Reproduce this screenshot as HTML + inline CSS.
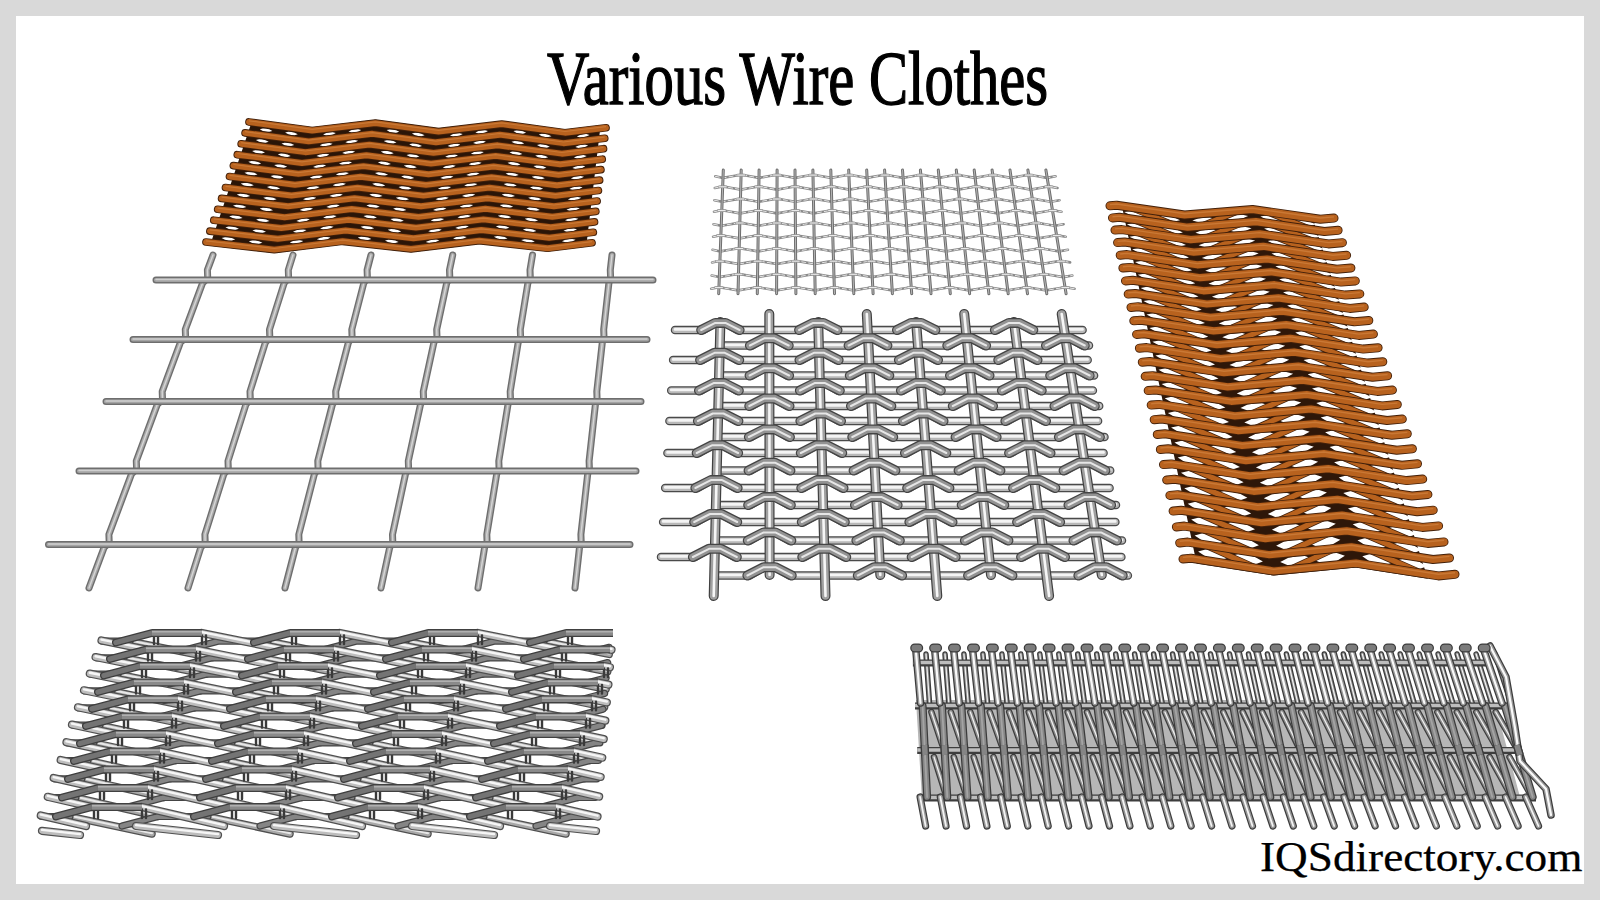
<!DOCTYPE html>
<html><head><meta charset="utf-8"><style>
html,body{margin:0;padding:0;background:#d9d9d9;}
body{width:1600px;height:900px;position:relative;overflow:hidden;}
#w{position:absolute;left:16px;top:16px;width:1568px;height:868px;background:#fff;}
svg{position:absolute;left:0;top:0;}
.t{position:absolute;font-family:"Liberation Serif",serif;color:#000;white-space:nowrap;line-height:1;}
</style></head><body><div id="w"></div>
<svg width="1600" height="900" viewBox="0 0 1600 900">
<g fill="none" stroke-linecap="round">
<path d="M213 255L207.4 270L207.7 278L202.6 283L185.3 329.5L185.6 337.5L180.4 342.5L162.2 391.5L162.5 399.5L157.3 404.5L136.3 461L136.6 469L131.5 474L108.9 534.5L109.2 542.5L104.1 547.5L89 588M293 255L288.3 270L288.6 278L284.2 283L269.5 329.5L269.8 337.5L265.4 342.5L250 391.5L250.3 399.5L245.9 404.5L228 461L228.3 469L223.9 474L204.9 534.5L205.2 542.5L200.8 547.5L188 588M371 255L367.1 270L367.4 278L363.8 283L351.8 329.5L352.1 337.5L348.4 342.5L335.7 391.5L336 399.5L332.4 404.5L317.8 461L318.1 469L314.4 474L298.8 534.5L299.1 542.5L295.5 547.5L285 588M452.7 255L449.5 270L449.8 278L446.7 283L436.7 329.5L437 337.5L433.9 342.5L423.3 391.5L423.6 399.5L420.5 404.5L408.3 461L408.6 469L405.5 474L392.5 534.5L392.8 542.5L389.7 547.5L381 588M532.5 255L530 270L530.3 278L527.9 283L520.3 329.5L520.6 337.5L518.2 342.5L510.2 391.5L510.5 399.5L508 404.5L498.8 461L499.1 469L496.7 474L486.8 534.5L487.1 542.5L484.6 547.5L478 588M612 255L610.3 270L610.6 278L608.9 283L603.7 329.5L604 337.5L602.3 342.5L596.8 391.5L597.1 399.5L595.4 404.5L589.1 461L589.4 469L587.7 474L580.9 534.5L581.2 542.5L579.5 547.5L575 588" stroke="#6e6e6e" stroke-width="7" stroke-linejoin="round"/>
<path d="M213 255L207.4 270L207.7 278L202.6 283L185.3 329.5L185.6 337.5L180.4 342.5L162.2 391.5L162.5 399.5L157.3 404.5L136.3 461L136.6 469L131.5 474L108.9 534.5L109.2 542.5L104.1 547.5L89 588M293 255L288.3 270L288.6 278L284.2 283L269.5 329.5L269.8 337.5L265.4 342.5L250 391.5L250.3 399.5L245.9 404.5L228 461L228.3 469L223.9 474L204.9 534.5L205.2 542.5L200.8 547.5L188 588M371 255L367.1 270L367.4 278L363.8 283L351.8 329.5L352.1 337.5L348.4 342.5L335.7 391.5L336 399.5L332.4 404.5L317.8 461L318.1 469L314.4 474L298.8 534.5L299.1 542.5L295.5 547.5L285 588M452.7 255L449.5 270L449.8 278L446.7 283L436.7 329.5L437 337.5L433.9 342.5L423.3 391.5L423.6 399.5L420.5 404.5L408.3 461L408.6 469L405.5 474L392.5 534.5L392.8 542.5L389.7 547.5L381 588M532.5 255L530 270L530.3 278L527.9 283L520.3 329.5L520.6 337.5L518.2 342.5L510.2 391.5L510.5 399.5L508 404.5L498.8 461L499.1 469L496.7 474L486.8 534.5L487.1 542.5L484.6 547.5L478 588M612 255L610.3 270L610.6 278L608.9 283L603.7 329.5L604 337.5L602.3 342.5L596.8 391.5L597.1 399.5L595.4 404.5L589.1 461L589.4 469L587.7 474L580.9 534.5L581.2 542.5L579.5 547.5L575 588" stroke="#a9a9a9" stroke-width="4.2" stroke-linejoin="round"/>
<path d="M213 255L207.4 270L207.7 278L202.6 283L185.3 329.5L185.6 337.5L180.4 342.5L162.2 391.5L162.5 399.5L157.3 404.5L136.3 461L136.6 469L131.5 474L108.9 534.5L109.2 542.5L104.1 547.5L89 588M293 255L288.3 270L288.6 278L284.2 283L269.5 329.5L269.8 337.5L265.4 342.5L250 391.5L250.3 399.5L245.9 404.5L228 461L228.3 469L223.9 474L204.9 534.5L205.2 542.5L200.8 547.5L188 588M371 255L367.1 270L367.4 278L363.8 283L351.8 329.5L352.1 337.5L348.4 342.5L335.7 391.5L336 399.5L332.4 404.5L317.8 461L318.1 469L314.4 474L298.8 534.5L299.1 542.5L295.5 547.5L285 588M452.7 255L449.5 270L449.8 278L446.7 283L436.7 329.5L437 337.5L433.9 342.5L423.3 391.5L423.6 399.5L420.5 404.5L408.3 461L408.6 469L405.5 474L392.5 534.5L392.8 542.5L389.7 547.5L381 588M532.5 255L530 270L530.3 278L527.9 283L520.3 329.5L520.6 337.5L518.2 342.5L510.2 391.5L510.5 399.5L508 404.5L498.8 461L499.1 469L496.7 474L486.8 534.5L487.1 542.5L484.6 547.5L478 588M612 255L610.3 270L610.6 278L608.9 283L603.7 329.5L604 337.5L602.3 342.5L596.8 391.5L597.1 399.5L595.4 404.5L589.1 461L589.4 469L587.7 474L580.9 534.5L581.2 542.5L579.5 547.5L575 588" stroke="#d6d6d6" stroke-width="1.4" stroke-linejoin="round"/>
<path d="M156 280H653M133 339.5H647M106 401.5H641M79 471H636M48.5 544.5H630" stroke="#6e6e6e" stroke-width="7"/>
<path d="M156 280H653M133 339.5H647M106 401.5H641M79 471H636M48.5 544.5H630" stroke="#a4a4a4" stroke-width="4.2"/>
<path d="M156 280H653M133 339.5H647M106 401.5H641M79 471H636M48.5 544.5H630" stroke="#cfcfcf" stroke-width="1.4" transform="translate(0,-0.5)"/>
</g>
<g fill="none" stroke-linecap="round" stroke-linejoin="round">
<path d="M715.3 176.3L723.1 177.9L732.1 176.3L741.1 174.7L750.1 176.3L759 177.9L768 176.3L777 174.7L786 176.3L795 177.9L804 176.3L813 174.7L822 176.3L831 177.9L840 176.3L849 174.7L858 176.3L867 177.9L876 176.3L885 174.7L894 176.3L903 177.9L912 176.3L921 174.7L930 176.3L938.9 177.9L947.9 176.3L956.9 174.7L965.9 176.3L974.9 177.9L983.9 176.3L992.9 174.7L1001.9 176.3L1010.9 177.9L1019.9 176.3L1028.9 174.7L1037.9 176.3L1046.9 177.9L1055.5 176.3M714.8 188L722.6 186.4L731.7 188L740.8 189.6L749.8 188L758.9 186.4L767.9 188L777 189.6L786.1 188L795.1 186.4L804.2 188L813.2 189.6L822.3 188L831.4 186.4L840.4 188L849.5 189.6L858.5 188L867.6 186.4L876.7 188L885.7 189.6L894.8 188L903.8 186.4L912.9 188L922 189.6L931 188L940.1 186.4L949.1 188L958.2 189.6L967.3 188L976.3 186.4L985.4 188L994.4 189.6L1003.5 188L1012.6 186.4L1021.6 188L1030.7 189.6L1039.7 188L1048.8 186.4L1057.5 188M714.4 200.2L722.2 201.8L731.3 200.2L740.4 198.6L749.6 200.2L758.7 201.8L767.8 200.2L776.9 198.6L786.1 200.2L795.2 201.8L804.3 200.2L813.5 198.6L822.6 200.2L831.7 201.8L840.8 200.2L850 198.6L859.1 200.2L868.2 201.8L877.4 200.2L886.5 198.6L895.6 200.2L904.7 201.8L913.9 200.2L923 198.6L932.1 200.2L941.3 201.8L950.4 200.2L959.5 198.6L968.6 200.2L977.8 201.8L986.9 200.2L996 198.6L1005.2 200.2L1014.3 201.8L1023.4 200.2L1032.5 198.6L1041.7 200.2L1050.8 201.8L1059.5 200.2M714 211.8L721.7 210.2L730.9 211.8L740.1 213.4L749.3 211.8L758.5 210.2L767.7 211.8L776.9 213.4L786.1 211.8L795.3 210.2L804.5 211.8L813.7 213.4L822.9 211.8L832.1 210.2L841.3 211.8L850.4 213.4L859.6 211.8L868.8 210.2L878 211.8L887.2 213.4L896.4 211.8L905.6 210.2L914.8 211.8L924 213.4L933.2 211.8L942.4 210.2L951.6 211.8L960.8 213.4L970 211.8L979.2 210.2L988.3 211.8L997.5 213.4L1006.7 211.8L1015.9 210.2L1025.1 211.8L1034.3 213.4L1043.5 211.8L1052.7 210.2L1061.5 211.8M713.5 224.2L721.3 225.8L730.5 224.2L739.8 222.6L749.1 224.2L758.3 225.8L767.6 224.2L776.9 222.6L786.1 224.2L795.4 225.8L804.6 224.2L813.9 222.6L823.2 224.2L832.4 225.8L841.7 224.2L851 222.6L860.2 224.2L869.5 225.8L878.7 224.2L888 222.6L897.3 224.2L906.5 225.8L915.8 224.2L925.1 222.6L934.3 224.2L943.6 225.8L952.8 224.2L962.1 222.6L971.4 224.2L980.6 225.8L989.9 224.2L999.2 222.6L1008.4 224.2L1017.7 225.8L1026.9 224.2L1036.2 222.6L1045.5 224.2L1054.7 225.8L1063.6 224.2M713.1 236.8L720.8 235.2L730.1 236.8L739.5 238.4L748.8 236.8L758.1 235.2L767.5 236.8L776.8 238.4L786.1 236.8L795.5 235.2L804.8 236.8L814.1 238.4L823.5 236.8L832.8 235.2L842.1 236.8L851.5 238.4L860.8 236.8L870.1 235.2L879.5 236.8L888.8 238.4L898.1 236.8L907.5 235.2L916.8 236.8L926.1 238.4L935.5 236.8L944.8 235.2L954.1 236.8L963.5 238.4L972.8 236.8L982.1 235.2L991.5 236.8L1000.8 238.4L1010.1 236.8L1019.5 235.2L1028.8 236.8L1038.1 238.4L1047.5 236.8L1056.8 235.2L1065.7 236.8M712.6 249.8L720.3 251.4L729.7 249.8L739.1 248.2L748.5 249.8L758 251.4L767.4 249.8L776.8 248.2L786.2 249.8L795.6 251.4L805 249.8L814.4 248.2L823.8 249.8L833.2 251.4L842.6 249.8L852 248.2L861.4 249.8L870.8 251.4L880.2 249.8L889.6 248.2L899 249.8L908.4 251.4L917.8 249.8L927.2 248.2L936.7 249.8L946.1 251.4L955.5 249.8L964.9 248.2L974.3 249.8L983.7 251.4L993.1 249.8L1002.5 248.2L1011.9 249.8L1021.3 251.4L1030.7 249.8L1040.1 248.2L1049.5 249.8L1058.9 251.4L1067.9 249.8M712.1 262.4L719.9 260.8L729.3 262.4L738.8 264L748.3 262.4L757.8 260.8L767.2 262.4L776.7 264L786.2 262.4L795.7 260.8L805.1 262.4L814.6 264L824.1 262.4L833.6 260.8L843 262.4L852.5 264L862 262.4L871.5 260.8L880.9 262.4L890.4 264L899.9 262.4L909.4 260.8L918.8 262.4L928.3 264L937.8 262.4L947.3 260.8L956.7 262.4L966.2 264L975.7 262.4L985.2 260.8L994.7 262.4L1004.1 264L1013.6 262.4L1023.1 260.8L1032.6 262.4L1042 264L1051.5 262.4L1061 260.8L1070.1 262.4M711.7 275.5L719.4 277.1L728.9 275.5L738.5 273.9L748 275.5L757.6 277.1L767.1 275.5L776.7 273.9L786.2 275.5L795.8 277.1L805.3 275.5L814.9 273.9L824.4 275.5L834 277.1L843.5 275.5L853.1 273.9L862.6 275.5L872.2 277.1L881.7 275.5L891.2 273.9L900.8 275.5L910.3 277.1L919.9 275.5L929.4 273.9L939 275.5L948.5 277.1L958.1 275.5L967.6 273.9L977.2 275.5L986.7 277.1L996.3 275.5L1005.8 273.9L1015.4 275.5L1024.9 277.1L1034.5 275.5L1044 273.9L1053.6 275.5L1063.1 277.1L1072.3 275.5M711.2 288.8L718.9 287.2L728.5 288.8L738.1 290.4L747.8 288.8L757.4 287.2L767 288.8L776.6 290.4L786.2 288.8L795.9 287.2L805.5 288.8L815.1 290.4L824.7 288.8L834.4 287.2L844 288.8L853.6 290.4L863.2 288.8L872.8 287.2L882.5 288.8L892.1 290.4L901.7 288.8L911.3 287.2L921 288.8L930.6 290.4L940.2 288.8L949.8 287.2L959.4 288.8L969.1 290.4L978.7 288.8L988.3 287.2L997.9 288.8L1007.6 290.4L1017.2 288.8L1026.8 287.2L1036.4 288.8L1046.1 290.4L1055.7 288.8L1065.3 287.2L1074.6 288.8" stroke="#8a8a8a" stroke-width="2.6"/>
<path d="M715.3 176.3L723.1 177.9L732.1 176.3L741.1 174.7L750.1 176.3L759 177.9L768 176.3L777 174.7L786 176.3L795 177.9L804 176.3L813 174.7L822 176.3L831 177.9L840 176.3L849 174.7L858 176.3L867 177.9L876 176.3L885 174.7L894 176.3L903 177.9L912 176.3L921 174.7L930 176.3L938.9 177.9L947.9 176.3L956.9 174.7L965.9 176.3L974.9 177.9L983.9 176.3L992.9 174.7L1001.9 176.3L1010.9 177.9L1019.9 176.3L1028.9 174.7L1037.9 176.3L1046.9 177.9L1055.5 176.3M714.8 188L722.6 186.4L731.7 188L740.8 189.6L749.8 188L758.9 186.4L767.9 188L777 189.6L786.1 188L795.1 186.4L804.2 188L813.2 189.6L822.3 188L831.4 186.4L840.4 188L849.5 189.6L858.5 188L867.6 186.4L876.7 188L885.7 189.6L894.8 188L903.8 186.4L912.9 188L922 189.6L931 188L940.1 186.4L949.1 188L958.2 189.6L967.3 188L976.3 186.4L985.4 188L994.4 189.6L1003.5 188L1012.6 186.4L1021.6 188L1030.7 189.6L1039.7 188L1048.8 186.4L1057.5 188M714.4 200.2L722.2 201.8L731.3 200.2L740.4 198.6L749.6 200.2L758.7 201.8L767.8 200.2L776.9 198.6L786.1 200.2L795.2 201.8L804.3 200.2L813.5 198.6L822.6 200.2L831.7 201.8L840.8 200.2L850 198.6L859.1 200.2L868.2 201.8L877.4 200.2L886.5 198.6L895.6 200.2L904.7 201.8L913.9 200.2L923 198.6L932.1 200.2L941.3 201.8L950.4 200.2L959.5 198.6L968.6 200.2L977.8 201.8L986.9 200.2L996 198.6L1005.2 200.2L1014.3 201.8L1023.4 200.2L1032.5 198.6L1041.7 200.2L1050.8 201.8L1059.5 200.2M714 211.8L721.7 210.2L730.9 211.8L740.1 213.4L749.3 211.8L758.5 210.2L767.7 211.8L776.9 213.4L786.1 211.8L795.3 210.2L804.5 211.8L813.7 213.4L822.9 211.8L832.1 210.2L841.3 211.8L850.4 213.4L859.6 211.8L868.8 210.2L878 211.8L887.2 213.4L896.4 211.8L905.6 210.2L914.8 211.8L924 213.4L933.2 211.8L942.4 210.2L951.6 211.8L960.8 213.4L970 211.8L979.2 210.2L988.3 211.8L997.5 213.4L1006.7 211.8L1015.9 210.2L1025.1 211.8L1034.3 213.4L1043.5 211.8L1052.7 210.2L1061.5 211.8M713.5 224.2L721.3 225.8L730.5 224.2L739.8 222.6L749.1 224.2L758.3 225.8L767.6 224.2L776.9 222.6L786.1 224.2L795.4 225.8L804.6 224.2L813.9 222.6L823.2 224.2L832.4 225.8L841.7 224.2L851 222.6L860.2 224.2L869.5 225.8L878.7 224.2L888 222.6L897.3 224.2L906.5 225.8L915.8 224.2L925.1 222.6L934.3 224.2L943.6 225.8L952.8 224.2L962.1 222.6L971.4 224.2L980.6 225.8L989.9 224.2L999.2 222.6L1008.4 224.2L1017.7 225.8L1026.9 224.2L1036.2 222.6L1045.5 224.2L1054.7 225.8L1063.6 224.2M713.1 236.8L720.8 235.2L730.1 236.8L739.5 238.4L748.8 236.8L758.1 235.2L767.5 236.8L776.8 238.4L786.1 236.8L795.5 235.2L804.8 236.8L814.1 238.4L823.5 236.8L832.8 235.2L842.1 236.8L851.5 238.4L860.8 236.8L870.1 235.2L879.5 236.8L888.8 238.4L898.1 236.8L907.5 235.2L916.8 236.8L926.1 238.4L935.5 236.8L944.8 235.2L954.1 236.8L963.5 238.4L972.8 236.8L982.1 235.2L991.5 236.8L1000.8 238.4L1010.1 236.8L1019.5 235.2L1028.8 236.8L1038.1 238.4L1047.5 236.8L1056.8 235.2L1065.7 236.8M712.6 249.8L720.3 251.4L729.7 249.8L739.1 248.2L748.5 249.8L758 251.4L767.4 249.8L776.8 248.2L786.2 249.8L795.6 251.4L805 249.8L814.4 248.2L823.8 249.8L833.2 251.4L842.6 249.8L852 248.2L861.4 249.8L870.8 251.4L880.2 249.8L889.6 248.2L899 249.8L908.4 251.4L917.8 249.8L927.2 248.2L936.7 249.8L946.1 251.4L955.5 249.8L964.9 248.2L974.3 249.8L983.7 251.4L993.1 249.8L1002.5 248.2L1011.9 249.8L1021.3 251.4L1030.7 249.8L1040.1 248.2L1049.5 249.8L1058.9 251.4L1067.9 249.8M712.1 262.4L719.9 260.8L729.3 262.4L738.8 264L748.3 262.4L757.8 260.8L767.2 262.4L776.7 264L786.2 262.4L795.7 260.8L805.1 262.4L814.6 264L824.1 262.4L833.6 260.8L843 262.4L852.5 264L862 262.4L871.5 260.8L880.9 262.4L890.4 264L899.9 262.4L909.4 260.8L918.8 262.4L928.3 264L937.8 262.4L947.3 260.8L956.7 262.4L966.2 264L975.7 262.4L985.2 260.8L994.7 262.4L1004.1 264L1013.6 262.4L1023.1 260.8L1032.6 262.4L1042 264L1051.5 262.4L1061 260.8L1070.1 262.4M711.7 275.5L719.4 277.1L728.9 275.5L738.5 273.9L748 275.5L757.6 277.1L767.1 275.5L776.7 273.9L786.2 275.5L795.8 277.1L805.3 275.5L814.9 273.9L824.4 275.5L834 277.1L843.5 275.5L853.1 273.9L862.6 275.5L872.2 277.1L881.7 275.5L891.2 273.9L900.8 275.5L910.3 277.1L919.9 275.5L929.4 273.9L939 275.5L948.5 277.1L958.1 275.5L967.6 273.9L977.2 275.5L986.7 277.1L996.3 275.5L1005.8 273.9L1015.4 275.5L1024.9 277.1L1034.5 275.5L1044 273.9L1053.6 275.5L1063.1 277.1L1072.3 275.5M711.2 288.8L718.9 287.2L728.5 288.8L738.1 290.4L747.8 288.8L757.4 287.2L767 288.8L776.6 290.4L786.2 288.8L795.9 287.2L805.5 288.8L815.1 290.4L824.7 288.8L834.4 287.2L844 288.8L853.6 290.4L863.2 288.8L872.8 287.2L882.5 288.8L892.1 290.4L901.7 288.8L911.3 287.2L921 288.8L930.6 290.4L940.2 288.8L949.8 287.2L959.4 288.8L969.1 290.4L978.7 288.8L988.3 287.2L997.9 288.8L1007.6 290.4L1017.2 288.8L1026.8 287.2L1036.4 288.8L1046.1 290.4L1055.7 288.8L1065.3 287.2L1074.6 288.8" stroke="#e6e6e6" stroke-width="1" stroke-dasharray="4 3"/>
<path d="M723.3 170L718.7 293.7M741.2 170L738 293.7M759.1 170L757.3 293.7M777.1 170L776.6 293.7M795 170L795.9 293.7M812.9 170L815.2 293.7M830.8 170L834.5 293.7M848.7 170L853.8 293.7M866.7 170L873.1 293.7M884.6 170L892.4 293.7M902.5 170L911.7 293.7M920.4 170L931 293.7M938.3 170L950.3 293.7M956.3 170L969.6 293.7M974.2 170L988.9 293.7M992.1 170L1008.2 293.7M1010 170L1027.5 293.7M1027.9 170L1046.8 293.7M1045.9 170L1066.1 293.7" stroke="#6e6e6e" stroke-width="3"/>
<path d="M723.3 170L718.7 293.7M741.2 170L738 293.7M759.1 170L757.3 293.7M777.1 170L776.6 293.7M795 170L795.9 293.7M812.9 170L815.2 293.7M830.8 170L834.5 293.7M848.7 170L853.8 293.7M866.7 170L873.1 293.7M884.6 170L892.4 293.7M902.5 170L911.7 293.7M920.4 170L931 293.7M938.3 170L950.3 293.7M956.3 170L969.6 293.7M974.2 170L988.9 293.7M992.1 170L1008.2 293.7M1010 170L1027.5 293.7M1027.9 170L1046.8 293.7M1045.9 170L1066.1 293.7" stroke="#bdbdbd" stroke-width="0.9"/>
<path d="M737.6 175.1L744.6 175.1M773.5 175.1L780.5 175.1M809.5 175.1L816.5 175.1M845.5 175.1L852.5 175.1M881.5 175.1L888.5 175.1M917.5 175.1L924.5 175.1M953.4 175.1L960.4 175.1M989.4 175.1L996.4 175.1M1025.4 175.1L1032.4 175.1M719.1 186.8L726.1 186.8M755.4 186.8L762.4 186.8M791.6 186.8L798.6 186.8M827.9 186.8L834.9 186.8M864.1 186.8L871.1 186.8M900.3 186.8L907.3 186.8M936.6 186.8L943.6 186.8M972.8 186.8L979.8 186.8M1009.1 186.8L1016.1 186.8M1045.3 186.8L1052.3 186.8M736.9 199L743.9 199M773.4 199L780.4 199M810 199L817 199M846.5 199L853.5 199M883 199L890 199M919.5 199L926.5 199M956 199L963 199M992.5 199L999.5 199M1029 199L1036 199M718.2 210.6L725.2 210.6M755 210.6L762 210.6M791.8 210.6L798.8 210.6M828.6 210.6L835.6 210.6M865.3 210.6L872.3 210.6M902.1 210.6L909.1 210.6M938.9 210.6L945.9 210.6M975.7 210.6L982.7 210.6M1012.4 210.6L1019.4 210.6M1049.2 210.6L1056.2 210.6M736.3 223L743.3 223M773.4 223L780.4 223M810.4 223L817.4 223M847.5 223L854.5 223M884.5 223L891.5 223M921.6 223L928.6 223M958.6 223L965.6 223M995.7 223L1002.7 223M1032.7 223L1039.7 223M717.3 235.6L724.3 235.6M754.6 235.6L761.6 235.6M792 235.6L799 235.6M829.3 235.6L836.3 235.6M866.6 235.6L873.6 235.6M904 235.6L911 235.6M941.3 235.6L948.3 235.6M978.6 235.6L985.6 235.6M1016 235.6L1023 235.6M1053.3 235.6L1060.3 235.6M735.6 248.6L742.6 248.6M773.3 248.6L780.3 248.6M810.9 248.6L817.9 248.6M848.5 248.6L855.5 248.6M886.1 248.6L893.1 248.6M923.7 248.6L930.7 248.6M961.4 248.6L968.4 248.6M999 248.6L1006 248.6M1036.6 248.6L1043.6 248.6M716.4 261.2L723.4 261.2M754.3 261.2L761.3 261.2M792.2 261.2L799.2 261.2M830.1 261.2L837.1 261.2M868 261.2L875 261.2M905.9 261.2L912.9 261.2M943.8 261.2L950.8 261.2M981.7 261.2L988.7 261.2M1019.6 261.2L1026.6 261.2M1057.5 261.2L1064.5 261.2M735 274.3L742 274.3M773.2 274.3L780.2 274.3M811.4 274.3L818.4 274.3M849.6 274.3L856.6 274.3M887.7 274.3L894.7 274.3M925.9 274.3L932.9 274.3M964.1 274.3L971.1 274.3M1002.3 274.3L1009.3 274.3M1040.5 274.3L1047.5 274.3M715.4 287.6L722.4 287.6M753.9 287.6L760.9 287.6M792.4 287.6L799.4 287.6M830.9 287.6L837.9 287.6M869.3 287.6L876.3 287.6M907.8 287.6L914.8 287.6M946.3 287.6L953.3 287.6M984.8 287.6L991.8 287.6M1023.3 287.6L1030.3 287.6M1061.8 287.6L1068.8 287.6" stroke="#9a9a9a" stroke-width="2.6"/>
<path d="M737.6 175.1L744.6 175.1M773.5 175.1L780.5 175.1M809.5 175.1L816.5 175.1M845.5 175.1L852.5 175.1M881.5 175.1L888.5 175.1M917.5 175.1L924.5 175.1M953.4 175.1L960.4 175.1M989.4 175.1L996.4 175.1M1025.4 175.1L1032.4 175.1M719.1 186.8L726.1 186.8M755.4 186.8L762.4 186.8M791.6 186.8L798.6 186.8M827.9 186.8L834.9 186.8M864.1 186.8L871.1 186.8M900.3 186.8L907.3 186.8M936.6 186.8L943.6 186.8M972.8 186.8L979.8 186.8M1009.1 186.8L1016.1 186.8M1045.3 186.8L1052.3 186.8M736.9 199L743.9 199M773.4 199L780.4 199M810 199L817 199M846.5 199L853.5 199M883 199L890 199M919.5 199L926.5 199M956 199L963 199M992.5 199L999.5 199M1029 199L1036 199M718.2 210.6L725.2 210.6M755 210.6L762 210.6M791.8 210.6L798.8 210.6M828.6 210.6L835.6 210.6M865.3 210.6L872.3 210.6M902.1 210.6L909.1 210.6M938.9 210.6L945.9 210.6M975.7 210.6L982.7 210.6M1012.4 210.6L1019.4 210.6M1049.2 210.6L1056.2 210.6M736.3 223L743.3 223M773.4 223L780.4 223M810.4 223L817.4 223M847.5 223L854.5 223M884.5 223L891.5 223M921.6 223L928.6 223M958.6 223L965.6 223M995.7 223L1002.7 223M1032.7 223L1039.7 223M717.3 235.6L724.3 235.6M754.6 235.6L761.6 235.6M792 235.6L799 235.6M829.3 235.6L836.3 235.6M866.6 235.6L873.6 235.6M904 235.6L911 235.6M941.3 235.6L948.3 235.6M978.6 235.6L985.6 235.6M1016 235.6L1023 235.6M1053.3 235.6L1060.3 235.6M735.6 248.6L742.6 248.6M773.3 248.6L780.3 248.6M810.9 248.6L817.9 248.6M848.5 248.6L855.5 248.6M886.1 248.6L893.1 248.6M923.7 248.6L930.7 248.6M961.4 248.6L968.4 248.6M999 248.6L1006 248.6M1036.6 248.6L1043.6 248.6M716.4 261.2L723.4 261.2M754.3 261.2L761.3 261.2M792.2 261.2L799.2 261.2M830.1 261.2L837.1 261.2M868 261.2L875 261.2M905.9 261.2L912.9 261.2M943.8 261.2L950.8 261.2M981.7 261.2L988.7 261.2M1019.6 261.2L1026.6 261.2M1057.5 261.2L1064.5 261.2M735 274.3L742 274.3M773.2 274.3L780.2 274.3M811.4 274.3L818.4 274.3M849.6 274.3L856.6 274.3M887.7 274.3L894.7 274.3M925.9 274.3L932.9 274.3M964.1 274.3L971.1 274.3M1002.3 274.3L1009.3 274.3M1040.5 274.3L1047.5 274.3M715.4 287.6L722.4 287.6M753.9 287.6L760.9 287.6M792.4 287.6L799.4 287.6M830.9 287.6L837.9 287.6M869.3 287.6L876.3 287.6M907.8 287.6L914.8 287.6M946.3 287.6L953.3 287.6M984.8 287.6L991.8 287.6M1023.3 287.6L1030.3 287.6M1061.8 287.6L1068.8 287.6" stroke="#f2f2f2" stroke-width="1"/>
</g>
<g fill="none" stroke-linecap="round" stroke-linejoin="round">
<path d="M675 330L703.2 330L715.3 322.9L725.4 322.9L737.6 330L801.1 330L813.2 322.9L823.3 322.9L835.5 330L899 330L911.1 322.9L921.2 322.9L933.4 330L996.9 330L1009 322.9L1019.1 322.9L1031.3 330L1082.6 330M723.8 345.5L751.9 345.5L764.2 338.3L774.4 338.3L786.7 345.5L850.6 345.5L862.9 338.3L873.1 338.3L885.4 345.5L949.3 345.5L961.6 338.3L971.8 338.3L984.1 345.5L1048 345.5L1060.3 338.3L1070.5 338.3L1082.8 345.5L1089 345.5M673.1 360L702.1 360L714.5 352.8L724.8 352.8L737.2 360L801.5 360L813.9 352.8L824.2 352.8L836.6 360L900.9 360L913.3 352.8L923.6 352.8L936 360L1000.3 360L1012.7 352.8L1023.1 352.8L1035.5 360L1087.7 360M723.1 375.5L751.6 375.5L764.1 368.2L774.6 368.2L787.1 375.5L851.8 375.5L864.3 368.2L874.8 368.2L887.3 375.5L952 375.5L964.6 368.2L975 368.2L987.5 375.5L1052.2 375.5L1064.8 368.2L1075.2 368.2L1087.7 375.5L1094.1 375.5M671.2 390.5L701 390.5L713.6 383.1L724.2 383.1L736.8 390.5L801.9 390.5L814.6 383.1L825.1 383.1L837.8 390.5L902.9 390.5L915.6 383.1L926.1 383.1L938.8 390.5L1003.9 390.5L1016.5 383.1L1027.1 383.1L1039.7 390.5L1092.9 390.5M722.3 406L751.3 406L764.1 398.5L774.7 398.5L787.5 406L853 406L865.8 398.5L876.5 398.5L889.3 406L954.8 406L967.6 398.5L978.2 398.5L991 406L1056.5 406L1069.3 398.5L1080 398.5L1092.8 406L1099.2 406M669.4 421L699.9 421L712.8 413.5L723.5 413.5L736.4 421L802.4 421L815.3 413.5L826 413.5L839 421L904.9 421L917.8 413.5L928.6 413.5L941.5 421L1007.4 421L1020.3 413.5L1031.1 413.5L1044 421L1098.1 421M721.6 437L750.9 437L764 429.4L774.9 429.4L787.9 437L854.3 437L867.3 429.4L878.2 429.4L891.2 437L957.6 437L970.6 429.4L981.5 429.4L994.6 437L1060.9 437L1074 429.4L1084.8 429.4L1097.9 437L1104.5 437M667.4 453L698.7 453L711.9 445.3L722.9 445.3L736.1 453L802.8 453L816 445.3L827 445.3L840.2 453L907 453L920.1 445.3L931.1 445.3L944.3 453L1011.1 453L1024.3 445.3L1035.3 445.3L1048.5 453L1103.6 453M720.8 470.5L750.6 470.5L763.9 462.7L775 462.7L788.4 470.5L855.6 470.5L868.9 462.7L880 462.7L893.4 470.5L960.6 470.5L973.9 462.7L985.1 462.7L998.4 470.5L1065.6 470.5L1079 462.7L1090.1 462.7L1103.4 470.5L1110.2 470.5M665.2 488L697.4 488L710.9 480.1L722.1 480.1L735.6 488L803.3 488L816.8 480.1L828 480.1L841.5 488L909.2 488L922.7 480.1L934 480.1L947.4 488L1015.1 488L1028.6 480.1L1039.9 480.1L1053.3 488L1109.6 488M719.9 505L750.2 505L763.8 497.1L775.2 497.1L788.8 505L857 505L870.6 497.1L881.9 497.1L895.6 505L963.7 505L977.3 497.1L988.7 497.1L1002.3 505L1070.5 505L1084.1 497.1L1095.5 497.1L1109.1 505L1116 505M663.1 522L696.2 522L710 514L721.4 514L735.2 522L803.8 522L817.6 514L829.1 514L842.8 522L911.4 522L925.2 514L936.7 514L950.5 522L1019.1 522L1032.8 514L1044.3 514L1058.1 522L1115.4 522M719.1 540.5L749.8 540.5L763.7 532.4L775.3 532.4L789.3 540.5L858.4 540.5L872.3 532.4L883.9 532.4L897.8 540.5L966.9 540.5L980.9 532.4L992.5 532.4L1006.4 540.5L1075.5 540.5L1089.4 532.4L1101 532.4L1115 540.5L1122 540.5M661 557L694.9 557L709 548.8L720.7 548.8L734.8 557L804.3 557L818.4 548.8L830.1 548.8L844.2 557L913.7 557L927.8 548.8L939.5 548.8L953.6 557L1023.1 557L1037.2 548.8L1048.9 548.8L1063 557L1121.4 557M718.2 575.5L749.4 575.5L763.6 567.2L775.5 567.2L789.7 575.5L859.8 575.5L874 567.2L885.8 567.2L900.1 575.5L970.1 575.5L984.3 567.2L996.2 567.2L1010.4 575.5L1080.4 575.5L1094.6 567.2L1106.5 567.2L1120.7 575.5L1127.9 575.5" stroke="#4a4a4a" stroke-width="8.5"/>
<path d="M675 330L703.2 330L715.3 322.9L725.4 322.9L737.6 330L801.1 330L813.2 322.9L823.3 322.9L835.5 330L899 330L911.1 322.9L921.2 322.9L933.4 330L996.9 330L1009 322.9L1019.1 322.9L1031.3 330L1082.6 330M723.8 345.5L751.9 345.5L764.2 338.3L774.4 338.3L786.7 345.5L850.6 345.5L862.9 338.3L873.1 338.3L885.4 345.5L949.3 345.5L961.6 338.3L971.8 338.3L984.1 345.5L1048 345.5L1060.3 338.3L1070.5 338.3L1082.8 345.5L1089 345.5M673.1 360L702.1 360L714.5 352.8L724.8 352.8L737.2 360L801.5 360L813.9 352.8L824.2 352.8L836.6 360L900.9 360L913.3 352.8L923.6 352.8L936 360L1000.3 360L1012.7 352.8L1023.1 352.8L1035.5 360L1087.7 360M723.1 375.5L751.6 375.5L764.1 368.2L774.6 368.2L787.1 375.5L851.8 375.5L864.3 368.2L874.8 368.2L887.3 375.5L952 375.5L964.6 368.2L975 368.2L987.5 375.5L1052.2 375.5L1064.8 368.2L1075.2 368.2L1087.7 375.5L1094.1 375.5M671.2 390.5L701 390.5L713.6 383.1L724.2 383.1L736.8 390.5L801.9 390.5L814.6 383.1L825.1 383.1L837.8 390.5L902.9 390.5L915.6 383.1L926.1 383.1L938.8 390.5L1003.9 390.5L1016.5 383.1L1027.1 383.1L1039.7 390.5L1092.9 390.5M722.3 406L751.3 406L764.1 398.5L774.7 398.5L787.5 406L853 406L865.8 398.5L876.5 398.5L889.3 406L954.8 406L967.6 398.5L978.2 398.5L991 406L1056.5 406L1069.3 398.5L1080 398.5L1092.8 406L1099.2 406M669.4 421L699.9 421L712.8 413.5L723.5 413.5L736.4 421L802.4 421L815.3 413.5L826 413.5L839 421L904.9 421L917.8 413.5L928.6 413.5L941.5 421L1007.4 421L1020.3 413.5L1031.1 413.5L1044 421L1098.1 421M721.6 437L750.9 437L764 429.4L774.9 429.4L787.9 437L854.3 437L867.3 429.4L878.2 429.4L891.2 437L957.6 437L970.6 429.4L981.5 429.4L994.6 437L1060.9 437L1074 429.4L1084.8 429.4L1097.9 437L1104.5 437M667.4 453L698.7 453L711.9 445.3L722.9 445.3L736.1 453L802.8 453L816 445.3L827 445.3L840.2 453L907 453L920.1 445.3L931.1 445.3L944.3 453L1011.1 453L1024.3 445.3L1035.3 445.3L1048.5 453L1103.6 453M720.8 470.5L750.6 470.5L763.9 462.7L775 462.7L788.4 470.5L855.6 470.5L868.9 462.7L880 462.7L893.4 470.5L960.6 470.5L973.9 462.7L985.1 462.7L998.4 470.5L1065.6 470.5L1079 462.7L1090.1 462.7L1103.4 470.5L1110.2 470.5M665.2 488L697.4 488L710.9 480.1L722.1 480.1L735.6 488L803.3 488L816.8 480.1L828 480.1L841.5 488L909.2 488L922.7 480.1L934 480.1L947.4 488L1015.1 488L1028.6 480.1L1039.9 480.1L1053.3 488L1109.6 488M719.9 505L750.2 505L763.8 497.1L775.2 497.1L788.8 505L857 505L870.6 497.1L881.9 497.1L895.6 505L963.7 505L977.3 497.1L988.7 497.1L1002.3 505L1070.5 505L1084.1 497.1L1095.5 497.1L1109.1 505L1116 505M663.1 522L696.2 522L710 514L721.4 514L735.2 522L803.8 522L817.6 514L829.1 514L842.8 522L911.4 522L925.2 514L936.7 514L950.5 522L1019.1 522L1032.8 514L1044.3 514L1058.1 522L1115.4 522M719.1 540.5L749.8 540.5L763.7 532.4L775.3 532.4L789.3 540.5L858.4 540.5L872.3 532.4L883.9 532.4L897.8 540.5L966.9 540.5L980.9 532.4L992.5 532.4L1006.4 540.5L1075.5 540.5L1089.4 532.4L1101 532.4L1115 540.5L1122 540.5M661 557L694.9 557L709 548.8L720.7 548.8L734.8 557L804.3 557L818.4 548.8L830.1 548.8L844.2 557L913.7 557L927.8 548.8L939.5 548.8L953.6 557L1023.1 557L1037.2 548.8L1048.9 548.8L1063 557L1121.4 557M718.2 575.5L749.4 575.5L763.6 567.2L775.5 567.2L789.7 575.5L859.8 575.5L874 567.2L885.8 567.2L900.1 575.5L970.1 575.5L984.3 567.2L996.2 567.2L1010.4 575.5L1080.4 575.5L1094.6 567.2L1106.5 567.2L1120.7 575.5L1127.9 575.5" stroke="#b8b8b8" stroke-width="6"/>
<path d="M675 330L703.2 330L715.3 322.9L725.4 322.9L737.6 330L801.1 330L813.2 322.9L823.3 322.9L835.5 330L899 330L911.1 322.9L921.2 322.9L933.4 330L996.9 330L1009 322.9L1019.1 322.9L1031.3 330L1082.6 330M723.8 345.5L751.9 345.5L764.2 338.3L774.4 338.3L786.7 345.5L850.6 345.5L862.9 338.3L873.1 338.3L885.4 345.5L949.3 345.5L961.6 338.3L971.8 338.3L984.1 345.5L1048 345.5L1060.3 338.3L1070.5 338.3L1082.8 345.5L1089 345.5M673.1 360L702.1 360L714.5 352.8L724.8 352.8L737.2 360L801.5 360L813.9 352.8L824.2 352.8L836.6 360L900.9 360L913.3 352.8L923.6 352.8L936 360L1000.3 360L1012.7 352.8L1023.1 352.8L1035.5 360L1087.7 360M723.1 375.5L751.6 375.5L764.1 368.2L774.6 368.2L787.1 375.5L851.8 375.5L864.3 368.2L874.8 368.2L887.3 375.5L952 375.5L964.6 368.2L975 368.2L987.5 375.5L1052.2 375.5L1064.8 368.2L1075.2 368.2L1087.7 375.5L1094.1 375.5M671.2 390.5L701 390.5L713.6 383.1L724.2 383.1L736.8 390.5L801.9 390.5L814.6 383.1L825.1 383.1L837.8 390.5L902.9 390.5L915.6 383.1L926.1 383.1L938.8 390.5L1003.9 390.5L1016.5 383.1L1027.1 383.1L1039.7 390.5L1092.9 390.5M722.3 406L751.3 406L764.1 398.5L774.7 398.5L787.5 406L853 406L865.8 398.5L876.5 398.5L889.3 406L954.8 406L967.6 398.5L978.2 398.5L991 406L1056.5 406L1069.3 398.5L1080 398.5L1092.8 406L1099.2 406M669.4 421L699.9 421L712.8 413.5L723.5 413.5L736.4 421L802.4 421L815.3 413.5L826 413.5L839 421L904.9 421L917.8 413.5L928.6 413.5L941.5 421L1007.4 421L1020.3 413.5L1031.1 413.5L1044 421L1098.1 421M721.6 437L750.9 437L764 429.4L774.9 429.4L787.9 437L854.3 437L867.3 429.4L878.2 429.4L891.2 437L957.6 437L970.6 429.4L981.5 429.4L994.6 437L1060.9 437L1074 429.4L1084.8 429.4L1097.9 437L1104.5 437M667.4 453L698.7 453L711.9 445.3L722.9 445.3L736.1 453L802.8 453L816 445.3L827 445.3L840.2 453L907 453L920.1 445.3L931.1 445.3L944.3 453L1011.1 453L1024.3 445.3L1035.3 445.3L1048.5 453L1103.6 453M720.8 470.5L750.6 470.5L763.9 462.7L775 462.7L788.4 470.5L855.6 470.5L868.9 462.7L880 462.7L893.4 470.5L960.6 470.5L973.9 462.7L985.1 462.7L998.4 470.5L1065.6 470.5L1079 462.7L1090.1 462.7L1103.4 470.5L1110.2 470.5M665.2 488L697.4 488L710.9 480.1L722.1 480.1L735.6 488L803.3 488L816.8 480.1L828 480.1L841.5 488L909.2 488L922.7 480.1L934 480.1L947.4 488L1015.1 488L1028.6 480.1L1039.9 480.1L1053.3 488L1109.6 488M719.9 505L750.2 505L763.8 497.1L775.2 497.1L788.8 505L857 505L870.6 497.1L881.9 497.1L895.6 505L963.7 505L977.3 497.1L988.7 497.1L1002.3 505L1070.5 505L1084.1 497.1L1095.5 497.1L1109.1 505L1116 505M663.1 522L696.2 522L710 514L721.4 514L735.2 522L803.8 522L817.6 514L829.1 514L842.8 522L911.4 522L925.2 514L936.7 514L950.5 522L1019.1 522L1032.8 514L1044.3 514L1058.1 522L1115.4 522M719.1 540.5L749.8 540.5L763.7 532.4L775.3 532.4L789.3 540.5L858.4 540.5L872.3 532.4L883.9 532.4L897.8 540.5L966.9 540.5L980.9 532.4L992.5 532.4L1006.4 540.5L1075.5 540.5L1089.4 532.4L1101 532.4L1115 540.5L1122 540.5M661 557L694.9 557L709 548.8L720.7 548.8L734.8 557L804.3 557L818.4 548.8L830.1 548.8L844.2 557L913.7 557L927.8 548.8L939.5 548.8L953.6 557L1023.1 557L1037.2 548.8L1048.9 548.8L1063 557L1121.4 557M718.2 575.5L749.4 575.5L763.6 567.2L775.5 567.2L789.7 575.5L859.8 575.5L874 567.2L885.8 567.2L900.1 575.5L970.1 575.5L984.3 567.2L996.2 567.2L1010.4 575.5L1080.4 575.5L1094.6 567.2L1106.5 567.2L1120.7 575.5L1127.9 575.5" stroke="#f4f4f4" stroke-width="2.6" transform="translate(0,-0.6)"/>
<path d="M720.4 322L713.7 596M769.3 314L769.6 575M818.2 322L825.5 596M866.8 314L880.3 575M916.1 322L937.3 596M964.2 314L991 575M1014 322L1049.1 596M1061.7 314L1101.8 575" stroke="#404040" stroke-width="10"/>
<path d="M720.4 322L713.7 596M769.3 314L769.6 575M818.2 322L825.5 596M866.8 314L880.3 575M916.1 322L937.3 596M964.2 314L991 575M1014 322L1049.1 596M1061.7 314L1101.8 575" stroke="#a0a0a0" stroke-width="7.6"/>
<path d="M720.4 322L713.7 596M769.3 314L769.6 575M818.2 322L825.5 596M866.8 314L880.3 575M916.1 322L937.3 596M964.2 314L991 575M1014 322L1049.1 596M1061.7 314L1101.8 575" stroke="#f6f6f6" stroke-width="2.6"/>
<path d="M701.2 330L715.3 322.9L725.4 322.9L739.6 330M799.1 330L813.2 322.9L823.3 322.9L837.5 330M897 330L911.1 322.9L921.2 322.9L935.4 330M994.9 330L1009 322.9L1019.1 322.9L1033.3 330M749.9 345.5L764.2 338.3L774.4 338.3L788.7 345.5M848.6 345.5L862.9 338.3L873.1 338.3L887.4 345.5M947.3 345.5L961.6 338.3L971.8 338.3L986.1 345.5M1046 345.5L1060.3 338.3L1070.5 338.3L1084.8 345.5M700.1 360L714.5 352.8L724.8 352.8L739.2 360M799.5 360L813.9 352.8L824.2 352.8L838.6 360M898.9 360L913.3 352.8L923.6 352.8L938 360M998.3 360L1012.7 352.8L1023.1 352.8L1037.5 360M749.6 375.5L764.1 368.2L774.6 368.2L789.1 375.5M849.8 375.5L864.3 368.2L874.8 368.2L889.3 375.5M950 375.5L964.6 368.2L975 368.2L989.5 375.5M1050.2 375.5L1064.8 368.2L1075.2 368.2L1089.7 375.5M699 390.5L713.6 383.1L724.2 383.1L738.8 390.5M799.9 390.5L814.6 383.1L825.1 383.1L839.8 390.5M900.9 390.5L915.6 383.1L926.1 383.1L940.8 390.5M1001.9 390.5L1016.5 383.1L1027.1 383.1L1041.7 390.5M749.3 406L764.1 398.5L774.7 398.5L789.5 406M851 406L865.8 398.5L876.5 398.5L891.3 406M952.8 406L967.6 398.5L978.2 398.5L993 406M1054.5 406L1069.3 398.5L1080 398.5L1094.8 406M697.9 421L712.8 413.5L723.5 413.5L738.4 421M800.4 421L815.3 413.5L826 413.5L841 421M902.9 421L917.8 413.5L928.6 413.5L943.5 421M1005.4 421L1020.3 413.5L1031.1 413.5L1046 421M748.9 437L764 429.4L774.9 429.4L789.9 437M852.3 437L867.3 429.4L878.2 429.4L893.2 437M955.6 437L970.6 429.4L981.5 429.4L996.6 437M1058.9 437L1074 429.4L1084.8 429.4L1099.9 437M696.7 453L711.9 445.3L722.9 445.3L738.1 453M800.8 453L816 445.3L827 445.3L842.2 453M905 453L920.1 445.3L931.1 445.3L946.3 453M1009.1 453L1024.3 445.3L1035.3 445.3L1050.5 453M748.6 470.5L763.9 462.7L775 462.7L790.4 470.5M853.6 470.5L868.9 462.7L880 462.7L895.4 470.5M958.6 470.5L973.9 462.7L985.1 462.7L1000.4 470.5M1063.6 470.5L1079 462.7L1090.1 462.7L1105.4 470.5M695.4 488L710.9 480.1L722.1 480.1L737.6 488M801.3 488L816.8 480.1L828 480.1L843.5 488M907.2 488L922.7 480.1L934 480.1L949.4 488M1013.1 488L1028.6 480.1L1039.9 480.1L1055.3 488M748.2 505L763.8 497.1L775.2 497.1L790.8 505M855 505L870.6 497.1L881.9 497.1L897.6 505M961.7 505L977.3 497.1L988.7 497.1L1004.3 505M1068.5 505L1084.1 497.1L1095.5 497.1L1111.1 505M694.2 522L710 514L721.4 514L737.2 522M801.8 522L817.6 514L829.1 514L844.8 522M909.4 522L925.2 514L936.7 514L952.5 522M1017.1 522L1032.8 514L1044.3 514L1060.1 522M747.8 540.5L763.7 532.4L775.3 532.4L791.3 540.5M856.4 540.5L872.3 532.4L883.9 532.4L899.8 540.5M964.9 540.5L980.9 532.4L992.5 532.4L1008.4 540.5M1073.5 540.5L1089.4 532.4L1101 532.4L1117 540.5M692.9 557L709 548.8L720.7 548.8L736.8 557M802.3 557L818.4 548.8L830.1 548.8L846.2 557M911.7 557L927.8 548.8L939.5 548.8L955.6 557M1021.1 557L1037.2 548.8L1048.9 548.8L1065 557M747.4 575.5L763.6 567.2L775.5 567.2L791.7 575.5M857.8 575.5L874 567.2L885.8 567.2L902.1 575.5M968.1 575.5L984.3 567.2L996.2 567.2L1012.4 575.5M1078.4 575.5L1094.6 567.2L1106.5 567.2L1122.7 575.5" stroke="#444" stroke-width="10"/>
<path d="M701.2 330L715.3 322.9L725.4 322.9L739.6 330M799.1 330L813.2 322.9L823.3 322.9L837.5 330M897 330L911.1 322.9L921.2 322.9L935.4 330M994.9 330L1009 322.9L1019.1 322.9L1033.3 330M749.9 345.5L764.2 338.3L774.4 338.3L788.7 345.5M848.6 345.5L862.9 338.3L873.1 338.3L887.4 345.5M947.3 345.5L961.6 338.3L971.8 338.3L986.1 345.5M1046 345.5L1060.3 338.3L1070.5 338.3L1084.8 345.5M700.1 360L714.5 352.8L724.8 352.8L739.2 360M799.5 360L813.9 352.8L824.2 352.8L838.6 360M898.9 360L913.3 352.8L923.6 352.8L938 360M998.3 360L1012.7 352.8L1023.1 352.8L1037.5 360M749.6 375.5L764.1 368.2L774.6 368.2L789.1 375.5M849.8 375.5L864.3 368.2L874.8 368.2L889.3 375.5M950 375.5L964.6 368.2L975 368.2L989.5 375.5M1050.2 375.5L1064.8 368.2L1075.2 368.2L1089.7 375.5M699 390.5L713.6 383.1L724.2 383.1L738.8 390.5M799.9 390.5L814.6 383.1L825.1 383.1L839.8 390.5M900.9 390.5L915.6 383.1L926.1 383.1L940.8 390.5M1001.9 390.5L1016.5 383.1L1027.1 383.1L1041.7 390.5M749.3 406L764.1 398.5L774.7 398.5L789.5 406M851 406L865.8 398.5L876.5 398.5L891.3 406M952.8 406L967.6 398.5L978.2 398.5L993 406M1054.5 406L1069.3 398.5L1080 398.5L1094.8 406M697.9 421L712.8 413.5L723.5 413.5L738.4 421M800.4 421L815.3 413.5L826 413.5L841 421M902.9 421L917.8 413.5L928.6 413.5L943.5 421M1005.4 421L1020.3 413.5L1031.1 413.5L1046 421M748.9 437L764 429.4L774.9 429.4L789.9 437M852.3 437L867.3 429.4L878.2 429.4L893.2 437M955.6 437L970.6 429.4L981.5 429.4L996.6 437M1058.9 437L1074 429.4L1084.8 429.4L1099.9 437M696.7 453L711.9 445.3L722.9 445.3L738.1 453M800.8 453L816 445.3L827 445.3L842.2 453M905 453L920.1 445.3L931.1 445.3L946.3 453M1009.1 453L1024.3 445.3L1035.3 445.3L1050.5 453M748.6 470.5L763.9 462.7L775 462.7L790.4 470.5M853.6 470.5L868.9 462.7L880 462.7L895.4 470.5M958.6 470.5L973.9 462.7L985.1 462.7L1000.4 470.5M1063.6 470.5L1079 462.7L1090.1 462.7L1105.4 470.5M695.4 488L710.9 480.1L722.1 480.1L737.6 488M801.3 488L816.8 480.1L828 480.1L843.5 488M907.2 488L922.7 480.1L934 480.1L949.4 488M1013.1 488L1028.6 480.1L1039.9 480.1L1055.3 488M748.2 505L763.8 497.1L775.2 497.1L790.8 505M855 505L870.6 497.1L881.9 497.1L897.6 505M961.7 505L977.3 497.1L988.7 497.1L1004.3 505M1068.5 505L1084.1 497.1L1095.5 497.1L1111.1 505M694.2 522L710 514L721.4 514L737.2 522M801.8 522L817.6 514L829.1 514L844.8 522M909.4 522L925.2 514L936.7 514L952.5 522M1017.1 522L1032.8 514L1044.3 514L1060.1 522M747.8 540.5L763.7 532.4L775.3 532.4L791.3 540.5M856.4 540.5L872.3 532.4L883.9 532.4L899.8 540.5M964.9 540.5L980.9 532.4L992.5 532.4L1008.4 540.5M1073.5 540.5L1089.4 532.4L1101 532.4L1117 540.5M692.9 557L709 548.8L720.7 548.8L736.8 557M802.3 557L818.4 548.8L830.1 548.8L846.2 557M911.7 557L927.8 548.8L939.5 548.8L955.6 557M1021.1 557L1037.2 548.8L1048.9 548.8L1065 557M747.4 575.5L763.6 567.2L775.5 567.2L791.7 575.5M857.8 575.5L874 567.2L885.8 567.2L902.1 575.5M968.1 575.5L984.3 567.2L996.2 567.2L1012.4 575.5M1078.4 575.5L1094.6 567.2L1106.5 567.2L1122.7 575.5" stroke="#939393" stroke-width="7.4"/>
<path d="M701.2 330L715.3 322.9L725.4 322.9L739.6 330M799.1 330L813.2 322.9L823.3 322.9L837.5 330M897 330L911.1 322.9L921.2 322.9L935.4 330M994.9 330L1009 322.9L1019.1 322.9L1033.3 330M749.9 345.5L764.2 338.3L774.4 338.3L788.7 345.5M848.6 345.5L862.9 338.3L873.1 338.3L887.4 345.5M947.3 345.5L961.6 338.3L971.8 338.3L986.1 345.5M1046 345.5L1060.3 338.3L1070.5 338.3L1084.8 345.5M700.1 360L714.5 352.8L724.8 352.8L739.2 360M799.5 360L813.9 352.8L824.2 352.8L838.6 360M898.9 360L913.3 352.8L923.6 352.8L938 360M998.3 360L1012.7 352.8L1023.1 352.8L1037.5 360M749.6 375.5L764.1 368.2L774.6 368.2L789.1 375.5M849.8 375.5L864.3 368.2L874.8 368.2L889.3 375.5M950 375.5L964.6 368.2L975 368.2L989.5 375.5M1050.2 375.5L1064.8 368.2L1075.2 368.2L1089.7 375.5M699 390.5L713.6 383.1L724.2 383.1L738.8 390.5M799.9 390.5L814.6 383.1L825.1 383.1L839.8 390.5M900.9 390.5L915.6 383.1L926.1 383.1L940.8 390.5M1001.9 390.5L1016.5 383.1L1027.1 383.1L1041.7 390.5M749.3 406L764.1 398.5L774.7 398.5L789.5 406M851 406L865.8 398.5L876.5 398.5L891.3 406M952.8 406L967.6 398.5L978.2 398.5L993 406M1054.5 406L1069.3 398.5L1080 398.5L1094.8 406M697.9 421L712.8 413.5L723.5 413.5L738.4 421M800.4 421L815.3 413.5L826 413.5L841 421M902.9 421L917.8 413.5L928.6 413.5L943.5 421M1005.4 421L1020.3 413.5L1031.1 413.5L1046 421M748.9 437L764 429.4L774.9 429.4L789.9 437M852.3 437L867.3 429.4L878.2 429.4L893.2 437M955.6 437L970.6 429.4L981.5 429.4L996.6 437M1058.9 437L1074 429.4L1084.8 429.4L1099.9 437M696.7 453L711.9 445.3L722.9 445.3L738.1 453M800.8 453L816 445.3L827 445.3L842.2 453M905 453L920.1 445.3L931.1 445.3L946.3 453M1009.1 453L1024.3 445.3L1035.3 445.3L1050.5 453M748.6 470.5L763.9 462.7L775 462.7L790.4 470.5M853.6 470.5L868.9 462.7L880 462.7L895.4 470.5M958.6 470.5L973.9 462.7L985.1 462.7L1000.4 470.5M1063.6 470.5L1079 462.7L1090.1 462.7L1105.4 470.5M695.4 488L710.9 480.1L722.1 480.1L737.6 488M801.3 488L816.8 480.1L828 480.1L843.5 488M907.2 488L922.7 480.1L934 480.1L949.4 488M1013.1 488L1028.6 480.1L1039.9 480.1L1055.3 488M748.2 505L763.8 497.1L775.2 497.1L790.8 505M855 505L870.6 497.1L881.9 497.1L897.6 505M961.7 505L977.3 497.1L988.7 497.1L1004.3 505M1068.5 505L1084.1 497.1L1095.5 497.1L1111.1 505M694.2 522L710 514L721.4 514L737.2 522M801.8 522L817.6 514L829.1 514L844.8 522M909.4 522L925.2 514L936.7 514L952.5 522M1017.1 522L1032.8 514L1044.3 514L1060.1 522M747.8 540.5L763.7 532.4L775.3 532.4L791.3 540.5M856.4 540.5L872.3 532.4L883.9 532.4L899.8 540.5M964.9 540.5L980.9 532.4L992.5 532.4L1008.4 540.5M1073.5 540.5L1089.4 532.4L1101 532.4L1117 540.5M692.9 557L709 548.8L720.7 548.8L736.8 557M802.3 557L818.4 548.8L830.1 548.8L846.2 557M911.7 557L927.8 548.8L939.5 548.8L955.6 557M1021.1 557L1037.2 548.8L1048.9 548.8L1065 557M747.4 575.5L763.6 567.2L775.5 567.2L791.7 575.5M857.8 575.5L874 567.2L885.8 567.2L902.1 575.5M968.1 575.5L984.3 567.2L996.2 567.2L1012.4 575.5M1078.4 575.5L1094.6 567.2L1106.5 567.2L1122.7 575.5" stroke="#e6e6e6" stroke-width="2"/>
</g>
<g fill="none" stroke-linecap="round" stroke-linejoin="round">
<path d="M130 641.2L212 657.8M268 641.2L350 657.8M406 641.2L488 657.8M544 641.2L609.2 654.4M124 657.8L206 674.2M262 657.8L344 674.2M400 657.8L482 674.2M538 657.8L607.7 671.8M118 674.2L200 690.9M256 674.2L338 690.9M394 674.2L476 690.9M532 674.2L606.1 689.3M112 690.9L194 707.9M250 690.9L332 707.9M388 690.9L470 707.9M526 690.9L604.6 707.2M106 707.9L188 725.2M244 707.9L326 725.2M382 707.9L464 725.2M520 707.9L602 725.2M100 725.2L182 742.8M238 725.2L320 742.8M376 725.2L458 742.8M514 725.2L596 742.8M94 742.8L176 760.5M232 742.8L314 760.5M370 742.8L452 760.5M508 742.8L590 760.5M88 760.5L170 778.8M226 760.5L308 778.8M364 760.5L446 778.8M502 760.5L584 778.8M82 778.8L164 797.5M220 778.8L302 797.5M358 778.8L440 797.5M496 778.8L578 797.5M76 797.5L158 816.5M214 797.5L296 816.5M352 797.5L434 816.5M490 797.5L572 816.5M70 816.5L152 834M208 816.5L290 834M346 816.5L428 834M484 816.5L566 834" stroke="#505050" stroke-width="7.5"/>
<path d="M130 641.2L212 657.8M268 641.2L350 657.8M406 641.2L488 657.8M544 641.2L609.2 654.4M124 657.8L206 674.2M262 657.8L344 674.2M400 657.8L482 674.2M538 657.8L607.7 671.8M118 674.2L200 690.9M256 674.2L338 690.9M394 674.2L476 690.9M532 674.2L606.1 689.3M112 690.9L194 707.9M250 690.9L332 707.9M388 690.9L470 707.9M526 690.9L604.6 707.2M106 707.9L188 725.2M244 707.9L326 725.2M382 707.9L464 725.2M520 707.9L602 725.2M100 725.2L182 742.8M238 725.2L320 742.8M376 725.2L458 742.8M514 725.2L596 742.8M94 742.8L176 760.5M232 742.8L314 760.5M370 742.8L452 760.5M508 742.8L590 760.5M88 760.5L170 778.8M226 760.5L308 778.8M364 760.5L446 778.8M502 760.5L584 778.8M82 778.8L164 797.5M220 778.8L302 797.5M358 778.8L440 797.5M496 778.8L578 797.5M76 797.5L158 816.5M214 797.5L296 816.5M352 797.5L434 816.5M490 797.5L572 816.5M70 816.5L152 834M208 816.5L290 834M346 816.5L428 834M484 816.5L566 834" stroke="#a8a8a8" stroke-width="5"/>
<path d="M130 641.2L212 657.8M268 641.2L350 657.8M406 641.2L488 657.8M544 641.2L609.2 654.4M124 657.8L206 674.2M262 657.8L344 674.2M400 657.8L482 674.2M538 657.8L607.7 671.8M118 674.2L200 690.9M256 674.2L338 690.9M394 674.2L476 690.9M532 674.2L606.1 689.3M112 690.9L194 707.9M250 690.9L332 707.9M388 690.9L470 707.9M526 690.9L604.6 707.2M106 707.9L188 725.2M244 707.9L326 725.2M382 707.9L464 725.2M520 707.9L602 725.2M100 725.2L182 742.8M238 725.2L320 742.8M376 725.2L458 742.8M514 725.2L596 742.8M94 742.8L176 760.5M232 742.8L314 760.5M370 742.8L452 760.5M508 742.8L590 760.5M88 760.5L170 778.8M226 760.5L308 778.8M364 760.5L446 778.8M502 760.5L584 778.8M82 778.8L164 797.5M220 778.8L302 797.5M358 778.8L440 797.5M496 778.8L578 797.5M76 797.5L158 816.5M214 797.5L296 816.5M352 797.5L434 816.5M490 797.5L572 816.5M70 816.5L152 834M208 816.5L290 834M346 816.5L428 834M484 816.5L566 834" stroke="#e8e8e8" stroke-width="2" transform="translate(0,-0.8)"/>
<path d="M102.5 641.2L130 641.2M182 650.8L218 641.2M218 641.2L268 641.2M320 650.8L356 641.2M356 641.2L406 641.2M458 650.8L494 641.2M494 641.2L544 641.2M596 650.8L609.2 647.3M96.6 657.8L124 657.8M176 667.2L212 657.8M212 657.8L262 657.8M314 667.2L350 657.8M350 657.8L400 657.8M452 667.2L488 657.8M488 657.8L538 657.8M590 667.2L607.7 662.6M90.8 674.2L118 674.2M170 683.8L206 674.2M206 674.2L256 674.2M308 683.8L344 674.2M344 674.2L394 674.2M446 683.8L482 674.2M482 674.2L532 674.2M584 683.8L606.1 677.9M85 690.9L112 690.9M164 700.4L200 690.9M200 690.9L250 690.9M302 700.4L338 690.9M338 690.9L388 690.9M440 700.4L476 690.9M476 690.9L526 690.9M578 700.4L604.6 693.4M79 707.9L106 707.9M158 717.4L194 707.9M194 707.9L244 707.9M296 717.4L332 707.9M332 707.9L382 707.9M434 717.4L470 707.9M470 707.9L520 707.9M572 717.4L603 709.2M73 725.2L100 725.2M152 734.8L188 725.2M188 725.2L238 725.2M290 734.8L326 725.2M326 725.2L376 725.2M428 734.8L464 725.2M464 725.2L514 725.2M566 734.8L601.5 725.4M67.5 742.8L94 742.8M146 752.2L182 742.8M182 742.8L232 742.8M284 752.2L320 742.8M320 742.8L370 742.8M422 752.2L458 742.8M458 742.8L508 742.8M560 752.2L596 742.8M596 742.8L600 742.8M61.7 760.5L88 760.5M140 770L176 760.5M176 760.5L226 760.5M278 770L314 760.5M314 760.5L364 760.5M416 770L452 760.5M452 760.5L502 760.5M554 770L590 760.5M590 760.5L598.4 760.5M54.7 778.8L82 778.8M134 788.2L170 778.8M170 778.8L220 778.8M272 788.2L308 778.8M308 778.8L358 778.8M410 788.2L446 778.8M446 778.8L496 778.8M548 788.2L584 778.8M584 778.8L596.9 778.8M48.8 797.5L76 797.5M128 807L164 797.5M164 797.5L214 797.5M266 807L302 797.5M302 797.5L352 797.5M404 807L440 797.5M440 797.5L490 797.5M542 807L578 797.5M578 797.5L595.3 797.5M41.8 816.5L70 816.5M122 826L158 816.5M158 816.5L208 816.5M260 826L296 816.5M296 816.5L346 816.5M398 826L434 816.5M434 816.5L484 816.5M536 826L572 816.5M572 816.5L593.8 816.5" stroke="#444" stroke-width="7.2"/>
<path d="M102.5 641.2L130 641.2M182 650.8L218 641.2M218 641.2L268 641.2M320 650.8L356 641.2M356 641.2L406 641.2M458 650.8L494 641.2M494 641.2L544 641.2M596 650.8L609.2 647.3M96.6 657.8L124 657.8M176 667.2L212 657.8M212 657.8L262 657.8M314 667.2L350 657.8M350 657.8L400 657.8M452 667.2L488 657.8M488 657.8L538 657.8M590 667.2L607.7 662.6M90.8 674.2L118 674.2M170 683.8L206 674.2M206 674.2L256 674.2M308 683.8L344 674.2M344 674.2L394 674.2M446 683.8L482 674.2M482 674.2L532 674.2M584 683.8L606.1 677.9M85 690.9L112 690.9M164 700.4L200 690.9M200 690.9L250 690.9M302 700.4L338 690.9M338 690.9L388 690.9M440 700.4L476 690.9M476 690.9L526 690.9M578 700.4L604.6 693.4M79 707.9L106 707.9M158 717.4L194 707.9M194 707.9L244 707.9M296 717.4L332 707.9M332 707.9L382 707.9M434 717.4L470 707.9M470 707.9L520 707.9M572 717.4L603 709.2M73 725.2L100 725.2M152 734.8L188 725.2M188 725.2L238 725.2M290 734.8L326 725.2M326 725.2L376 725.2M428 734.8L464 725.2M464 725.2L514 725.2M566 734.8L601.5 725.4M67.5 742.8L94 742.8M146 752.2L182 742.8M182 742.8L232 742.8M284 752.2L320 742.8M320 742.8L370 742.8M422 752.2L458 742.8M458 742.8L508 742.8M560 752.2L596 742.8M596 742.8L600 742.8M61.7 760.5L88 760.5M140 770L176 760.5M176 760.5L226 760.5M278 770L314 760.5M314 760.5L364 760.5M416 770L452 760.5M452 760.5L502 760.5M554 770L590 760.5M590 760.5L598.4 760.5M54.7 778.8L82 778.8M134 788.2L170 778.8M170 778.8L220 778.8M272 788.2L308 778.8M308 778.8L358 778.8M410 788.2L446 778.8M446 778.8L496 778.8M548 788.2L584 778.8M584 778.8L596.9 778.8M48.8 797.5L76 797.5M128 807L164 797.5M164 797.5L214 797.5M266 807L302 797.5M302 797.5L352 797.5M404 807L440 797.5M440 797.5L490 797.5M542 807L578 797.5M578 797.5L595.3 797.5M41.8 816.5L70 816.5M122 826L158 816.5M158 816.5L208 816.5M260 826L296 816.5M296 816.5L346 816.5M398 826L434 816.5M434 816.5L484 816.5M536 826L572 816.5M572 816.5L593.8 816.5" stroke="#858585" stroke-width="4.8"/>
<path d="M101.5 640.5L146 649.5M202 633L284 649.5M340 633L422 649.5M478 633L560 649.5" stroke="#505050" stroke-width="8.2"/>
<path d="M101.5 640.5L146 649.5M202 633L284 649.5M340 633L422 649.5M478 633L560 649.5" stroke="#bdbdbd" stroke-width="5.8"/>
<path d="M101.5 640.5L146 649.5M202 633L284 649.5M340 633L422 649.5M478 633L560 649.5" stroke="#f6f6f6" stroke-width="2.4" transform="translate(0,-0.9)"/>
<path d="M116 642.5L152 633M254 642.5L290 633M392 642.5L428 633M530 642.5L566 633" stroke="#3e3e3e" stroke-width="8"/>
<path d="M116 642.5L152 633M254 642.5L290 633M392 642.5L428 633M530 642.5L566 633" stroke="#747474" stroke-width="5.4"/>
<path d="M154 635.5L154 644M158 635.5L158 644M202 635.5L202 644M206 635.5L206 644M292 635.5L292 644M296 635.5L296 644M340 635.5L340 644M344 635.5L344 644M430 635.5L430 644M434 635.5L434 644M478 635.5L478 644M482 635.5L482 644M568 635.5L568 644M572 635.5L572 644" stroke="#3a3a3a" stroke-width="2.4"/>
<path d="M152 633L202 633M290 633L340 633M428 633L478 633M566 633L613 633" stroke="#404040" stroke-width="8.2" stroke-linecap="butt"/>
<path d="M152 633L202 633M290 633L340 633M428 633L478 633M566 633L613 633" stroke="#8a8a8a" stroke-width="5.6" stroke-linecap="butt"/>
<path d="M152 633L202 633M290 633L340 633M428 633L478 633M566 633L613 633" stroke="#b0b0b0" stroke-width="1.6" stroke-linecap="butt" transform="translate(0,-1.2)"/>
<path d="M95.6 657.1L140 666M196 649.5L278 666M334 649.5L416 666M472 649.5L554 666M610 649.5L611.5 649.8" stroke="#505050" stroke-width="8.2"/>
<path d="M95.6 657.1L140 666M196 649.5L278 666M334 649.5L416 666M472 649.5L554 666M610 649.5L611.5 649.8" stroke="#bdbdbd" stroke-width="5.8"/>
<path d="M95.6 657.1L140 666M196 649.5L278 666M334 649.5L416 666M472 649.5L554 666M610 649.5L611.5 649.8" stroke="#f6f6f6" stroke-width="2.4" transform="translate(0,-0.9)"/>
<path d="M110 659L146 649.5M248 659L284 649.5M386 659L422 649.5M524 659L560 649.5" stroke="#3e3e3e" stroke-width="8"/>
<path d="M110 659L146 649.5M248 659L284 649.5M386 659L422 649.5M524 659L560 649.5" stroke="#747474" stroke-width="5.4"/>
<path d="M148 652L148 660.5M152 652L152 660.5M196 652L196 660.5M200 652L200 660.5M286 652L286 660.5M290 652L290 660.5M334 652L334 660.5M338 652L338 660.5M424 652L424 660.5M428 652L428 660.5M472 652L472 660.5M476 652L476 660.5M562 652L562 660.5M566 652L566 660.5" stroke="#3a3a3a" stroke-width="2.4"/>
<path d="M146 649.5L196 649.5M284 649.5L334 649.5M422 649.5L472 649.5M560 649.5L610 649.5" stroke="#404040" stroke-width="8.2" stroke-linecap="butt"/>
<path d="M146 649.5L196 649.5M284 649.5L334 649.5M422 649.5L472 649.5M560 649.5L610 649.5" stroke="#8a8a8a" stroke-width="5.6" stroke-linecap="butt"/>
<path d="M146 649.5L196 649.5M284 649.5L334 649.5M422 649.5L472 649.5M560 649.5L610 649.5" stroke="#b0b0b0" stroke-width="1.6" stroke-linecap="butt" transform="translate(0,-1.2)"/>
<path d="M89.8 673.6L134 682.5M190 666L272 682.5M328 666L410 682.5M466 666L548 682.5M604 666L609.9 667.2" stroke="#505050" stroke-width="8.2"/>
<path d="M89.8 673.6L134 682.5M190 666L272 682.5M328 666L410 682.5M466 666L548 682.5M604 666L609.9 667.2" stroke="#bdbdbd" stroke-width="5.8"/>
<path d="M89.8 673.6L134 682.5M190 666L272 682.5M328 666L410 682.5M466 666L548 682.5M604 666L609.9 667.2" stroke="#f6f6f6" stroke-width="2.4" transform="translate(0,-0.9)"/>
<path d="M104 675.5L140 666M242 675.5L278 666M380 675.5L416 666M518 675.5L554 666" stroke="#3e3e3e" stroke-width="8"/>
<path d="M104 675.5L140 666M242 675.5L278 666M380 675.5L416 666M518 675.5L554 666" stroke="#747474" stroke-width="5.4"/>
<path d="M142 668.5L142 677M146 668.5L146 677M190 668.5L190 677M194 668.5L194 677M280 668.5L280 677M284 668.5L284 677M328 668.5L328 677M332 668.5L332 677M418 668.5L418 677M422 668.5L422 677M466 668.5L466 677M470 668.5L470 677M556 668.5L556 677M560 668.5L560 677M604 668.5L604 677M608 668.5L608 677" stroke="#3a3a3a" stroke-width="2.4"/>
<path d="M140 666L190 666M278 666L328 666M416 666L466 666M554 666L604 666" stroke="#404040" stroke-width="8.2" stroke-linecap="butt"/>
<path d="M140 666L190 666M278 666L328 666M416 666L466 666M554 666L604 666" stroke="#8a8a8a" stroke-width="5.6" stroke-linecap="butt"/>
<path d="M140 666L190 666M278 666L328 666M416 666L466 666M554 666L604 666" stroke="#b0b0b0" stroke-width="1.6" stroke-linecap="butt" transform="translate(0,-1.2)"/>
<path d="M84 690.3L128 699.3M184 682.5L266 699.3M322 682.5L404 699.3M460 682.5L542 699.3M598 682.5L608.4 684.6" stroke="#505050" stroke-width="8.2"/>
<path d="M84 690.3L128 699.3M184 682.5L266 699.3M322 682.5L404 699.3M460 682.5L542 699.3M598 682.5L608.4 684.6" stroke="#bdbdbd" stroke-width="5.8"/>
<path d="M84 690.3L128 699.3M184 682.5L266 699.3M322 682.5L404 699.3M460 682.5L542 699.3M598 682.5L608.4 684.6" stroke="#f6f6f6" stroke-width="2.4" transform="translate(0,-0.9)"/>
<path d="M98 692L134 682.5M236 692L272 682.5M374 692L410 682.5M512 692L548 682.5" stroke="#3e3e3e" stroke-width="8"/>
<path d="M98 692L134 682.5M236 692L272 682.5M374 692L410 682.5M512 692L548 682.5" stroke="#747474" stroke-width="5.4"/>
<path d="M136 685L136 693.5M140 685L140 693.5M184 685L184 693.5M188 685L188 693.5M274 685L274 693.5M278 685L278 693.5M322 685L322 693.5M326 685L326 693.5M412 685L412 693.5M416 685L416 693.5M460 685L460 693.5M464 685L464 693.5M550 685L550 693.5M554 685L554 693.5M598 685L598 693.5M602 685L602 693.5" stroke="#3a3a3a" stroke-width="2.4"/>
<path d="M134 682.5L184 682.5M272 682.5L322 682.5M410 682.5L460 682.5M548 682.5L598 682.5" stroke="#404040" stroke-width="8.2" stroke-linecap="butt"/>
<path d="M134 682.5L184 682.5M272 682.5L322 682.5M410 682.5L460 682.5M548 682.5L598 682.5" stroke="#8a8a8a" stroke-width="5.6" stroke-linecap="butt"/>
<path d="M134 682.5L184 682.5M272 682.5L322 682.5M410 682.5L460 682.5M548 682.5L598 682.5" stroke="#b0b0b0" stroke-width="1.6" stroke-linecap="butt" transform="translate(0,-1.2)"/>
<path d="M78 707.3L122 716.5M178 699.3L260 716.5M316 699.3L398 716.5M454 699.3L536 716.5M592 699.3L606.8 702.4" stroke="#505050" stroke-width="8.2"/>
<path d="M78 707.3L122 716.5M178 699.3L260 716.5M316 699.3L398 716.5M454 699.3L536 716.5M592 699.3L606.8 702.4" stroke="#bdbdbd" stroke-width="5.8"/>
<path d="M78 707.3L122 716.5M178 699.3L260 716.5M316 699.3L398 716.5M454 699.3L536 716.5M592 699.3L606.8 702.4" stroke="#f6f6f6" stroke-width="2.4" transform="translate(0,-0.9)"/>
<path d="M92 708.8L128 699.3M230 708.8L266 699.3M368 708.8L404 699.3M506 708.8L542 699.3" stroke="#3e3e3e" stroke-width="8"/>
<path d="M92 708.8L128 699.3M230 708.8L266 699.3M368 708.8L404 699.3M506 708.8L542 699.3" stroke="#747474" stroke-width="5.4"/>
<path d="M130 701.8L130 710.3M134 701.8L134 710.3M178 701.8L178 710.3M182 701.8L182 710.3M268 701.8L268 710.3M272 701.8L272 710.3M316 701.8L316 710.3M320 701.8L320 710.3M406 701.8L406 710.3M410 701.8L410 710.3M454 701.8L454 710.3M458 701.8L458 710.3M544 701.8L544 710.3M548 701.8L548 710.3M592 701.8L592 710.3M596 701.8L596 710.3" stroke="#3a3a3a" stroke-width="2.4"/>
<path d="M128 699.3L178 699.3M266 699.3L316 699.3M404 699.3L454 699.3M542 699.3L592 699.3" stroke="#404040" stroke-width="8.2" stroke-linecap="butt"/>
<path d="M128 699.3L178 699.3M266 699.3L316 699.3M404 699.3L454 699.3M542 699.3L592 699.3" stroke="#8a8a8a" stroke-width="5.6" stroke-linecap="butt"/>
<path d="M128 699.3L178 699.3M266 699.3L316 699.3M404 699.3L454 699.3M542 699.3L592 699.3" stroke="#b0b0b0" stroke-width="1.6" stroke-linecap="butt" transform="translate(0,-1.2)"/>
<path d="M72 724.6L116 734M172 716.5L254 734M310 716.5L392 734M448 716.5L530 734M586 716.5L605.3 720.6" stroke="#505050" stroke-width="8.2"/>
<path d="M72 724.6L116 734M172 716.5L254 734M310 716.5L392 734M448 716.5L530 734M586 716.5L605.3 720.6" stroke="#bdbdbd" stroke-width="5.8"/>
<path d="M72 724.6L116 734M172 716.5L254 734M310 716.5L392 734M448 716.5L530 734M586 716.5L605.3 720.6" stroke="#f6f6f6" stroke-width="2.4" transform="translate(0,-0.9)"/>
<path d="M86 726L122 716.5M224 726L260 716.5M362 726L398 716.5M500 726L536 716.5" stroke="#3e3e3e" stroke-width="8"/>
<path d="M86 726L122 716.5M224 726L260 716.5M362 726L398 716.5M500 726L536 716.5" stroke="#747474" stroke-width="5.4"/>
<path d="M124 719L124 727.5M128 719L128 727.5M172 719L172 727.5M176 719L176 727.5M262 719L262 727.5M266 719L266 727.5M310 719L310 727.5M314 719L314 727.5M400 719L400 727.5M404 719L404 727.5M448 719L448 727.5M452 719L452 727.5M538 719L538 727.5M542 719L542 727.5M586 719L586 727.5M590 719L590 727.5" stroke="#3a3a3a" stroke-width="2.4"/>
<path d="M122 716.5L172 716.5M260 716.5L310 716.5M398 716.5L448 716.5M536 716.5L586 716.5" stroke="#404040" stroke-width="8.2" stroke-linecap="butt"/>
<path d="M122 716.5L172 716.5M260 716.5L310 716.5M398 716.5L448 716.5M536 716.5L586 716.5" stroke="#8a8a8a" stroke-width="5.6" stroke-linecap="butt"/>
<path d="M122 716.5L172 716.5M260 716.5L310 716.5M398 716.5L448 716.5M536 716.5L586 716.5" stroke="#b0b0b0" stroke-width="1.6" stroke-linecap="butt" transform="translate(0,-1.2)"/>
<path d="M66.5 742.2L110 751.5M166 734L248 751.5M304 734L386 751.5M442 734L524 751.5M580 734L603.7 739.1" stroke="#505050" stroke-width="8.2"/>
<path d="M66.5 742.2L110 751.5M166 734L248 751.5M304 734L386 751.5M442 734L524 751.5M580 734L603.7 739.1" stroke="#bdbdbd" stroke-width="5.8"/>
<path d="M66.5 742.2L110 751.5M166 734L248 751.5M304 734L386 751.5M442 734L524 751.5M580 734L603.7 739.1" stroke="#f6f6f6" stroke-width="2.4" transform="translate(0,-0.9)"/>
<path d="M80 743.5L116 734M218 743.5L254 734M356 743.5L392 734M494 743.5L530 734" stroke="#3e3e3e" stroke-width="8"/>
<path d="M80 743.5L116 734M218 743.5L254 734M356 743.5L392 734M494 743.5L530 734" stroke="#747474" stroke-width="5.4"/>
<path d="M118 736.5L118 745M122 736.5L122 745M166 736.5L166 745M170 736.5L170 745M256 736.5L256 745M260 736.5L260 745M304 736.5L304 745M308 736.5L308 745M394 736.5L394 745M398 736.5L398 745M442 736.5L442 745M446 736.5L446 745M532 736.5L532 745M536 736.5L536 745M580 736.5L580 745M584 736.5L584 745" stroke="#3a3a3a" stroke-width="2.4"/>
<path d="M116 734L166 734M254 734L304 734M392 734L442 734M530 734L580 734" stroke="#404040" stroke-width="8.2" stroke-linecap="butt"/>
<path d="M116 734L166 734M254 734L304 734M392 734L442 734M530 734L580 734" stroke="#8a8a8a" stroke-width="5.6" stroke-linecap="butt"/>
<path d="M116 734L166 734M254 734L304 734M392 734L442 734M530 734L580 734" stroke="#b0b0b0" stroke-width="1.6" stroke-linecap="butt" transform="translate(0,-1.2)"/>
<path d="M60.7 760L104 769.5M160 751.5L242 769.5M298 751.5L380 769.5M436 751.5L518 769.5M574 751.5L602.2 757.7" stroke="#505050" stroke-width="8.2"/>
<path d="M60.7 760L104 769.5M160 751.5L242 769.5M298 751.5L380 769.5M436 751.5L518 769.5M574 751.5L602.2 757.7" stroke="#bdbdbd" stroke-width="5.8"/>
<path d="M60.7 760L104 769.5M160 751.5L242 769.5M298 751.5L380 769.5M436 751.5L518 769.5M574 751.5L602.2 757.7" stroke="#f6f6f6" stroke-width="2.4" transform="translate(0,-0.9)"/>
<path d="M74 761L110 751.5M212 761L248 751.5M350 761L386 751.5M488 761L524 751.5" stroke="#3e3e3e" stroke-width="8"/>
<path d="M74 761L110 751.5M212 761L248 751.5M350 761L386 751.5M488 761L524 751.5" stroke="#747474" stroke-width="5.4"/>
<path d="M112 754L112 762.5M116 754L116 762.5M160 754L160 762.5M164 754L164 762.5M250 754L250 762.5M254 754L254 762.5M298 754L298 762.5M302 754L302 762.5M388 754L388 762.5M392 754L392 762.5M436 754L436 762.5M440 754L440 762.5M526 754L526 762.5M530 754L530 762.5M574 754L574 762.5M578 754L578 762.5" stroke="#3a3a3a" stroke-width="2.4"/>
<path d="M110 751.5L160 751.5M248 751.5L298 751.5M386 751.5L436 751.5M524 751.5L574 751.5" stroke="#404040" stroke-width="8.2" stroke-linecap="butt"/>
<path d="M110 751.5L160 751.5M248 751.5L298 751.5M386 751.5L436 751.5M524 751.5L574 751.5" stroke="#8a8a8a" stroke-width="5.6" stroke-linecap="butt"/>
<path d="M110 751.5L160 751.5M248 751.5L298 751.5M386 751.5L436 751.5M524 751.5L574 751.5" stroke="#b0b0b0" stroke-width="1.6" stroke-linecap="butt" transform="translate(0,-1.2)"/>
<path d="M53.7 778L98 788M154 769.5L236 788M292 769.5L374 788M430 769.5L512 788M568 769.5L600.6 776.9" stroke="#505050" stroke-width="8.2"/>
<path d="M53.7 778L98 788M154 769.5L236 788M292 769.5L374 788M430 769.5L512 788M568 769.5L600.6 776.9" stroke="#bdbdbd" stroke-width="5.8"/>
<path d="M53.7 778L98 788M154 769.5L236 788M292 769.5L374 788M430 769.5L512 788M568 769.5L600.6 776.9" stroke="#f6f6f6" stroke-width="2.4" transform="translate(0,-0.9)"/>
<path d="M68 779L104 769.5M206 779L242 769.5M344 779L380 769.5M482 779L518 769.5" stroke="#3e3e3e" stroke-width="8"/>
<path d="M68 779L104 769.5M206 779L242 769.5M344 779L380 769.5M482 779L518 769.5" stroke="#747474" stroke-width="5.4"/>
<path d="M106 772L106 780.5M110 772L110 780.5M154 772L154 780.5M158 772L158 780.5M244 772L244 780.5M248 772L248 780.5M292 772L292 780.5M296 772L296 780.5M382 772L382 780.5M386 772L386 780.5M430 772L430 780.5M434 772L434 780.5M520 772L520 780.5M524 772L524 780.5M568 772L568 780.5M572 772L572 780.5" stroke="#3a3a3a" stroke-width="2.4"/>
<path d="M104 769.5L154 769.5M242 769.5L292 769.5M380 769.5L430 769.5M518 769.5L568 769.5" stroke="#404040" stroke-width="8.2" stroke-linecap="butt"/>
<path d="M104 769.5L154 769.5M242 769.5L292 769.5M380 769.5L430 769.5M518 769.5L568 769.5" stroke="#8a8a8a" stroke-width="5.6" stroke-linecap="butt"/>
<path d="M104 769.5L154 769.5M242 769.5L292 769.5M380 769.5L430 769.5M518 769.5L568 769.5" stroke="#b0b0b0" stroke-width="1.6" stroke-linecap="butt" transform="translate(0,-1.2)"/>
<path d="M47.8 796.8L92 807M148 788L230 807M286 788L368 807M424 788L506 807M562 788L599.1 796.6" stroke="#505050" stroke-width="8.2"/>
<path d="M47.8 796.8L92 807M148 788L230 807M286 788L368 807M424 788L506 807M562 788L599.1 796.6" stroke="#bdbdbd" stroke-width="5.8"/>
<path d="M47.8 796.8L92 807M148 788L230 807M286 788L368 807M424 788L506 807M562 788L599.1 796.6" stroke="#f6f6f6" stroke-width="2.4" transform="translate(0,-0.9)"/>
<path d="M62 797.5L98 788M200 797.5L236 788M338 797.5L374 788M476 797.5L512 788" stroke="#3e3e3e" stroke-width="8"/>
<path d="M62 797.5L98 788M200 797.5L236 788M338 797.5L374 788M476 797.5L512 788" stroke="#747474" stroke-width="5.4"/>
<path d="M100 790.5L100 799M104 790.5L104 799M148 790.5L148 799M152 790.5L152 799M238 790.5L238 799M242 790.5L242 799M286 790.5L286 799M290 790.5L290 799M376 790.5L376 799M380 790.5L380 799M424 790.5L424 799M428 790.5L428 799M514 790.5L514 799M518 790.5L518 799M562 790.5L562 799M566 790.5L566 799" stroke="#3a3a3a" stroke-width="2.4"/>
<path d="M98 788L148 788M236 788L286 788M374 788L424 788M512 788L562 788" stroke="#404040" stroke-width="8.2" stroke-linecap="butt"/>
<path d="M98 788L148 788M236 788L286 788M374 788L424 788M512 788L562 788" stroke="#8a8a8a" stroke-width="5.6" stroke-linecap="butt"/>
<path d="M98 788L148 788M236 788L286 788M374 788L424 788M512 788L562 788" stroke="#b0b0b0" stroke-width="1.6" stroke-linecap="butt" transform="translate(0,-1.2)"/>
<path d="M40.8 815.5L86 826M142 807L224 826M280 807L362 826M418 807L500 826M556 807L597.5 816.6" stroke="#505050" stroke-width="8.2"/>
<path d="M40.8 815.5L86 826M142 807L224 826M280 807L362 826M418 807L500 826M556 807L597.5 816.6" stroke="#bdbdbd" stroke-width="5.8"/>
<path d="M40.8 815.5L86 826M142 807L224 826M280 807L362 826M418 807L500 826M556 807L597.5 816.6" stroke="#f6f6f6" stroke-width="2.4" transform="translate(0,-0.9)"/>
<path d="M56 816.5L92 807M194 816.5L230 807M332 816.5L368 807M470 816.5L506 807" stroke="#3e3e3e" stroke-width="8"/>
<path d="M56 816.5L92 807M194 816.5L230 807M332 816.5L368 807M470 816.5L506 807" stroke="#747474" stroke-width="5.4"/>
<path d="M94 809.5L94 818M98 809.5L98 818M142 809.5L142 818M146 809.5L146 818M232 809.5L232 818M236 809.5L236 818M280 809.5L280 818M284 809.5L284 818M370 809.5L370 818M374 809.5L374 818M418 809.5L418 818M422 809.5L422 818M508 809.5L508 818M512 809.5L512 818M556 809.5L556 818M560 809.5L560 818" stroke="#3a3a3a" stroke-width="2.4"/>
<path d="M92 807L142 807M230 807L280 807M368 807L418 807M506 807L556 807" stroke="#404040" stroke-width="8.2" stroke-linecap="butt"/>
<path d="M92 807L142 807M230 807L280 807M368 807L418 807M506 807L556 807" stroke="#8a8a8a" stroke-width="5.6" stroke-linecap="butt"/>
<path d="M92 807L142 807M230 807L280 807M368 807L418 807M506 807L556 807" stroke="#b0b0b0" stroke-width="1.6" stroke-linecap="butt" transform="translate(0,-1.2)"/>
<path d="M42 830.8L80 835M136 826L218 835M274 826L356 835M412 826L494 835M550 826L596 831" stroke="#505050" stroke-width="8.2"/>
<path d="M42 830.8L80 835M136 826L218 835M274 826L356 835M412 826L494 835M550 826L596 831" stroke="#bdbdbd" stroke-width="5.8"/>
<path d="M42 830.8L80 835M136 826L218 835M274 826L356 835M412 826L494 835M550 826L596 831" stroke="#f6f6f6" stroke-width="2.4" transform="translate(0,-0.9)"/>
</g>
<g fill="none" stroke-linecap="round" stroke-linejoin="round">
<path d="M916 700L1494 700L1508 752L1520 797L922 800Z" fill="#7a7a7a" stroke="none" opacity="0.55"/>
<path d="M926 654L929.5 703M945 654L948.8 703M963.9 654L968.2 703M982.9 654L987.6 703M1001.9 654L1007 703M1020.8 654L1026.4 703M1039.8 654L1045.8 703M1058.8 654L1065.1 703M1077.7 654L1084.5 703M1096.7 654L1103.9 703M1115.7 654L1123.3 703M1134.6 654L1142.7 703M1153.6 654L1162.1 703M1172.6 654L1181.4 703M1191.6 654L1200.8 703M1210.5 654L1220.2 703M1229.5 654L1239.6 703M1248.5 654L1259 703M1267.4 654L1278.4 703M1286.4 654L1297.8 703M1305.4 654L1317.1 703M1324.3 654L1336.5 703M1343.3 654L1355.9 703M1362.3 654L1375.3 703M1381.2 654L1394.7 703M1400.2 654L1414.1 703M1419.2 654L1433.4 703M1438.1 654L1452.8 703M1457.1 654L1472.2 703M1476.1 654L1491.6 703M1495 654L1511 703" stroke="#3a3a3a" stroke-width="5.5"/>
<path d="M926 654L929.5 703M945 654L948.8 703M963.9 654L968.2 703M982.9 654L987.6 703M1001.9 654L1007 703M1020.8 654L1026.4 703M1039.8 654L1045.8 703M1058.8 654L1065.1 703M1077.7 654L1084.5 703M1096.7 654L1103.9 703M1115.7 654L1123.3 703M1134.6 654L1142.7 703M1153.6 654L1162.1 703M1172.6 654L1181.4 703M1191.6 654L1200.8 703M1210.5 654L1220.2 703M1229.5 654L1239.6 703M1248.5 654L1259 703M1267.4 654L1278.4 703M1286.4 654L1297.8 703M1305.4 654L1317.1 703M1324.3 654L1336.5 703M1343.3 654L1355.9 703M1362.3 654L1375.3 703M1381.2 654L1394.7 703M1400.2 654L1414.1 703M1419.2 654L1433.4 703M1438.1 654L1452.8 703M1457.1 654L1472.2 703M1476.1 654L1491.6 703M1495 654L1511 703" stroke="#8a8a8a" stroke-width="3"/>
<path d="M926 654L929.5 703M945 654L948.8 703M963.9 654L968.2 703M982.9 654L987.6 703M1001.9 654L1007 703M1020.8 654L1026.4 703M1039.8 654L1045.8 703M1058.8 654L1065.1 703M1077.7 654L1084.5 703M1096.7 654L1103.9 703M1115.7 654L1123.3 703M1134.6 654L1142.7 703M1153.6 654L1162.1 703M1172.6 654L1181.4 703M1191.6 654L1200.8 703M1210.5 654L1220.2 703M1229.5 654L1239.6 703M1248.5 654L1259 703M1267.4 654L1278.4 703M1286.4 654L1297.8 703M1305.4 654L1317.1 703M1324.3 654L1336.5 703M1343.3 654L1355.9 703M1362.3 654L1375.3 703M1381.2 654L1394.7 703M1400.2 654L1414.1 703M1419.2 654L1433.4 703M1438.1 654L1452.8 703M1457.1 654L1472.2 703M1476.1 654L1491.6 703M1495 654L1511 703" stroke="#f2f2f2" stroke-width="1.2"/>
<path d="M912.9 663L1490 663M915 706L1506 706M917.2 750.5L1520 750.5M919.6 798L1536 798" stroke="#3e3e3e" stroke-width="7" stroke-linecap="butt"/>
<path d="M912.9 663L1490 663M915 706L1506 706M917.2 750.5L1520 750.5M919.6 798L1536 798" stroke="#bdbdbd" stroke-width="3.4" stroke-linecap="butt" transform="translate(0,-0.5)"/>
<path d="M931.4 712L942.3 745M934 757L945 792M950.8 712L962 745M953.8 757L965.2 792M970.3 712L981.8 745M973.7 757L985.3 792M989.7 712L1001.5 745M993.5 757L1005.5 792M1009.2 712L1021.3 745M1013.4 757L1025.6 792M1028.7 712L1041 745M1033.2 757L1045.7 792M1048.1 712L1060.7 745M1053.1 757L1065.9 792M1067.6 712L1080.5 745M1072.9 757L1086 792M1087 712L1100.2 745M1092.7 757L1106.2 792M1106.5 712L1120 745M1112.6 757L1126.3 792M1126 712L1139.7 745M1132.4 757L1146.5 792M1145.4 712L1159.4 745M1152.3 757L1166.6 792M1164.9 712L1179.2 745M1172.1 757L1186.7 792M1184.4 712L1198.9 745M1192 757L1206.9 792M1203.8 712L1218.7 745M1211.8 757L1227 792M1223.3 712L1238.4 745M1231.6 757L1247.2 792M1242.7 712L1258.2 745M1251.5 757L1267.3 792M1262.2 712L1277.9 745M1271.3 757L1287.4 792M1281.7 712L1297.6 745M1291.2 757L1307.6 792M1301.1 712L1317.4 745M1311 757L1327.7 792M1320.6 712L1337.1 745M1330.9 757L1347.9 792M1340 712L1356.9 745M1350.7 757L1368 792M1359.5 712L1376.6 745M1370.6 757L1388.1 792M1379 712L1396.3 745M1390.4 757L1408.3 792M1398.4 712L1416.1 745M1410.2 757L1428.4 792M1417.9 712L1435.8 745M1430.1 757L1448.6 792M1437.3 712L1455.6 745M1449.9 757L1468.7 792M1456.8 712L1475.3 745M1469.8 757L1488.8 792M1476.3 712L1495.1 745M1489.6 757L1509 792M1495.7 712L1514.8 745M1509.5 757L1529.1 792" stroke="#3c3c3c" stroke-width="6.5"/>
<path d="M931.4 712L942.3 745M934 757L945 792M950.8 712L962 745M953.8 757L965.2 792M970.3 712L981.8 745M973.7 757L985.3 792M989.7 712L1001.5 745M993.5 757L1005.5 792M1009.2 712L1021.3 745M1013.4 757L1025.6 792M1028.7 712L1041 745M1033.2 757L1045.7 792M1048.1 712L1060.7 745M1053.1 757L1065.9 792M1067.6 712L1080.5 745M1072.9 757L1086 792M1087 712L1100.2 745M1092.7 757L1106.2 792M1106.5 712L1120 745M1112.6 757L1126.3 792M1126 712L1139.7 745M1132.4 757L1146.5 792M1145.4 712L1159.4 745M1152.3 757L1166.6 792M1164.9 712L1179.2 745M1172.1 757L1186.7 792M1184.4 712L1198.9 745M1192 757L1206.9 792M1203.8 712L1218.7 745M1211.8 757L1227 792M1223.3 712L1238.4 745M1231.6 757L1247.2 792M1242.7 712L1258.2 745M1251.5 757L1267.3 792M1262.2 712L1277.9 745M1271.3 757L1287.4 792M1281.7 712L1297.6 745M1291.2 757L1307.6 792M1301.1 712L1317.4 745M1311 757L1327.7 792M1320.6 712L1337.1 745M1330.9 757L1347.9 792M1340 712L1356.9 745M1350.7 757L1368 792M1359.5 712L1376.6 745M1370.6 757L1388.1 792M1379 712L1396.3 745M1390.4 757L1408.3 792M1398.4 712L1416.1 745M1410.2 757L1428.4 792M1417.9 712L1435.8 745M1430.1 757L1448.6 792M1437.3 712L1455.6 745M1449.9 757L1468.7 792M1456.8 712L1475.3 745M1469.8 757L1488.8 792M1476.3 712L1495.1 745M1489.6 757L1509 792M1495.7 712L1514.8 745M1509.5 757L1529.1 792" stroke="#8e8e8e" stroke-width="4"/>
<path d="M931.4 712L942.3 745M934 757L945 792M950.8 712L962 745M953.8 757L965.2 792M970.3 712L981.8 745M973.7 757L985.3 792M989.7 712L1001.5 745M993.5 757L1005.5 792M1009.2 712L1021.3 745M1013.4 757L1025.6 792M1028.7 712L1041 745M1033.2 757L1045.7 792M1048.1 712L1060.7 745M1053.1 757L1065.9 792M1067.6 712L1080.5 745M1072.9 757L1086 792M1087 712L1100.2 745M1092.7 757L1106.2 792M1106.5 712L1120 745M1112.6 757L1126.3 792M1126 712L1139.7 745M1132.4 757L1146.5 792M1145.4 712L1159.4 745M1152.3 757L1166.6 792M1164.9 712L1179.2 745M1172.1 757L1186.7 792M1184.4 712L1198.9 745M1192 757L1206.9 792M1203.8 712L1218.7 745M1211.8 757L1227 792M1223.3 712L1238.4 745M1231.6 757L1247.2 792M1242.7 712L1258.2 745M1251.5 757L1267.3 792M1262.2 712L1277.9 745M1271.3 757L1287.4 792M1281.7 712L1297.6 745M1291.2 757L1307.6 792M1301.1 712L1317.4 745M1311 757L1327.7 792M1320.6 712L1337.1 745M1330.9 757L1347.9 792M1340 712L1356.9 745M1350.7 757L1368 792M1359.5 712L1376.6 745M1370.6 757L1388.1 792M1379 712L1396.3 745M1390.4 757L1408.3 792M1398.4 712L1416.1 745M1410.2 757L1428.4 792M1417.9 712L1435.8 745M1430.1 757L1448.6 792M1437.3 712L1455.6 745M1449.9 757L1468.7 792M1456.8 712L1475.3 745M1469.8 757L1488.8 792M1476.3 712L1495.1 745M1489.6 757L1509 792M1495.7 712L1514.8 745M1509.5 757L1529.1 792" stroke="#f0f0f0" stroke-width="1.3"/>
<path d="M922.6 706L927.1 797M942 706L947.3 797M961.4 706L967.5 797M980.8 706L987.7 797M1000.2 706L1007.9 797M1019.6 706L1028.1 797M1039.1 706L1048.3 797M1058.5 706L1068.4 797M1077.9 706L1088.6 797M1097.3 706L1108.8 797M1116.7 706L1129 797M1136.1 706L1149.2 797M1155.5 706L1169.4 797M1174.9 706L1189.5 797M1194.3 706L1209.7 797M1213.8 706L1229.9 797M1233.2 706L1250.1 797M1252.6 706L1270.3 797M1272 706L1290.5 797M1291.4 706L1310.6 797M1310.8 706L1330.8 797M1330.2 706L1351 797M1349.6 706L1371.2 797M1369 706L1391.4 797M1388.4 706L1411.6 797M1407.8 706L1431.7 797M1427.3 706L1451.9 797M1446.7 706L1472.1 797M1466.1 706L1492.3 797M1485.5 706L1512.5 797M1504.9 706L1532.7 797" stroke="#3c3c3c" stroke-width="8"/>
<path d="M922.6 706L927.1 797M942 706L947.3 797M961.4 706L967.5 797M980.8 706L987.7 797M1000.2 706L1007.9 797M1019.6 706L1028.1 797M1039.1 706L1048.3 797M1058.5 706L1068.4 797M1077.9 706L1088.6 797M1097.3 706L1108.8 797M1116.7 706L1129 797M1136.1 706L1149.2 797M1155.5 706L1169.4 797M1174.9 706L1189.5 797M1194.3 706L1209.7 797M1213.8 706L1229.9 797M1233.2 706L1250.1 797M1252.6 706L1270.3 797M1272 706L1290.5 797M1291.4 706L1310.6 797M1310.8 706L1330.8 797M1330.2 706L1351 797M1349.6 706L1371.2 797M1369 706L1391.4 797M1388.4 706L1411.6 797M1407.8 706L1431.7 797M1427.3 706L1451.9 797M1446.7 706L1472.1 797M1466.1 706L1492.3 797M1485.5 706L1512.5 797M1504.9 706L1532.7 797" stroke="#858585" stroke-width="5.5"/>
<path d="M922.6 706L927.1 797M942 706L947.3 797M961.4 706L967.5 797M980.8 706L987.7 797M1000.2 706L1007.9 797M1019.6 706L1028.1 797M1039.1 706L1048.3 797M1058.5 706L1068.4 797M1077.9 706L1088.6 797M1097.3 706L1108.8 797M1116.7 706L1129 797M1136.1 706L1149.2 797M1155.5 706L1169.4 797M1174.9 706L1189.5 797M1194.3 706L1209.7 797M1213.8 706L1229.9 797M1233.2 706L1250.1 797M1252.6 706L1270.3 797M1272 706L1290.5 797M1291.4 706L1310.6 797M1310.8 706L1330.8 797M1330.2 706L1351 797M1349.6 706L1371.2 797M1369 706L1391.4 797M1388.4 706L1411.6 797M1407.8 706L1431.7 797M1427.3 706L1451.9 797M1446.7 706L1472.1 797M1466.1 706L1492.3 797M1485.5 706L1512.5 797M1504.9 706L1532.7 797" stroke="#a4a4a4" stroke-width="1.8"/>
<path d="M915.8 650L920.5 703M934.7 650L939.8 703M953.7 650L959.2 703M972.6 650L978.6 703M991.5 650L998 703M1010.5 650L1017.4 703M1029.4 650L1036.8 703M1048.3 650L1056.1 703M1067.3 650L1075.5 703M1086.2 650L1094.9 703M1105.1 650L1114.3 703M1124.1 650L1133.7 703M1143 650L1153.1 703M1161.9 650L1172.4 703M1180.9 650L1191.8 703M1199.8 650L1211.2 703M1218.7 650L1230.6 703M1237.7 650L1250 703M1256.6 650L1269.4 703M1275.5 650L1288.8 703M1294.5 650L1308.1 703M1313.4 650L1327.5 703M1332.3 650L1346.9 703M1351.3 650L1366.3 703M1370.2 650L1385.7 703M1389.1 650L1405.1 703M1408.1 650L1424.4 703M1427 650L1443.8 703M1446 650L1463.2 703M1464.9 650L1482.6 703M1483.8 650L1502 703M1490 646L1506 677L1515 728L1520 761L1546 789L1551 815" stroke="#3c3c3c" stroke-width="7.5"/>
<path d="M915.8 650L920.5 703M934.7 650L939.8 703M953.7 650L959.2 703M972.6 650L978.6 703M991.5 650L998 703M1010.5 650L1017.4 703M1029.4 650L1036.8 703M1048.3 650L1056.1 703M1067.3 650L1075.5 703M1086.2 650L1094.9 703M1105.1 650L1114.3 703M1124.1 650L1133.7 703M1143 650L1153.1 703M1161.9 650L1172.4 703M1180.9 650L1191.8 703M1199.8 650L1211.2 703M1218.7 650L1230.6 703M1237.7 650L1250 703M1256.6 650L1269.4 703M1275.5 650L1288.8 703M1294.5 650L1308.1 703M1313.4 650L1327.5 703M1332.3 650L1346.9 703M1351.3 650L1366.3 703M1370.2 650L1385.7 703M1389.1 650L1405.1 703M1408.1 650L1424.4 703M1427 650L1443.8 703M1446 650L1463.2 703M1464.9 650L1482.6 703M1483.8 650L1502 703M1490 646L1506 677L1515 728L1520 761L1546 789L1551 815" stroke="#989898" stroke-width="5"/>
<path d="M915.8 650L920.5 703M934.7 650L939.8 703M953.7 650L959.2 703M972.6 650L978.6 703M991.5 650L998 703M1010.5 650L1017.4 703M1029.4 650L1036.8 703M1048.3 650L1056.1 703M1067.3 650L1075.5 703M1086.2 650L1094.9 703M1105.1 650L1114.3 703M1124.1 650L1133.7 703M1143 650L1153.1 703M1161.9 650L1172.4 703M1180.9 650L1191.8 703M1199.8 650L1211.2 703M1218.7 650L1230.6 703M1237.7 650L1250 703M1256.6 650L1269.4 703M1275.5 650L1288.8 703M1294.5 650L1308.1 703M1313.4 650L1327.5 703M1332.3 650L1346.9 703M1351.3 650L1366.3 703M1370.2 650L1385.7 703M1389.1 650L1405.1 703M1408.1 650L1424.4 703M1427 650L1443.8 703M1446 650L1463.2 703M1464.9 650L1482.6 703M1483.8 650L1502 703M1490 646L1506 677L1515 728L1520 761L1546 789L1551 815" stroke="#fafafa" stroke-width="2.2"/>
<path d="M914.7 648L918.7 648M933.6 648L937.6 648M952.5 648L956.5 648M971.5 648L975.5 648M990.4 648L994.4 648M1009.3 648L1013.3 648M1028.2 648L1032.2 648M1047.1 648L1051.1 648M1066 648L1070 648M1085 648L1089 648M1103.9 648L1107.9 648M1122.8 648L1126.8 648M1141.7 648L1145.7 648M1160.6 648L1164.6 648M1179.5 648L1183.5 648M1198.5 648L1202.5 648M1217.4 648L1221.4 648M1236.3 648L1240.3 648M1255.2 648L1259.2 648M1274.1 648L1278.1 648M1293 648L1297 648M1312 648L1316 648M1330.9 648L1334.9 648M1349.8 648L1353.8 648M1368.7 648L1372.7 648M1387.6 648L1391.6 648M1406.5 648L1410.5 648M1425.5 648L1429.5 648M1444.4 648L1448.4 648M1463.3 648L1467.3 648M1482.2 648L1486.2 648" stroke="#3c3c3c" stroke-width="9"/>
<path d="M914.7 648L918.7 648M933.6 648L937.6 648M952.5 648L956.5 648M971.5 648L975.5 648M990.4 648L994.4 648M1009.3 648L1013.3 648M1028.2 648L1032.2 648M1047.1 648L1051.1 648M1066 648L1070 648M1085 648L1089 648M1103.9 648L1107.9 648M1122.8 648L1126.8 648M1141.7 648L1145.7 648M1160.6 648L1164.6 648M1179.5 648L1183.5 648M1198.5 648L1202.5 648M1217.4 648L1221.4 648M1236.3 648L1240.3 648M1255.2 648L1259.2 648M1274.1 648L1278.1 648M1293 648L1297 648M1312 648L1316 648M1330.9 648L1334.9 648M1349.8 648L1353.8 648M1368.7 648L1372.7 648M1387.6 648L1391.6 648M1406.5 648L1410.5 648M1425.5 648L1429.5 648M1444.4 648L1448.4 648M1463.3 648L1467.3 648M1482.2 648L1486.2 648" stroke="#7c7c7c" stroke-width="6.5"/>
<path d="M920.1 797L925.6 826M940.3 797L946 826M960.5 797L966.5 826M980.7 797L986.9 826M1000.9 797L1007.3 826M1021.1 797L1027.8 826M1041.3 797L1048.2 826M1061.4 797L1068.6 826M1081.6 797L1089 826M1101.8 797L1109.5 826M1122 797L1129.9 826M1142.2 797L1150.3 826M1162.4 797L1170.8 826M1182.5 797L1191.2 826M1202.7 797L1211.6 826M1222.9 797L1232 826M1243.1 797L1252.5 826M1263.3 797L1272.9 826M1283.5 797L1293.3 826M1303.6 797L1313.8 826M1323.8 797L1334.2 826M1344 797L1354.6 826M1364.2 797L1375.1 826M1384.4 797L1395.5 826M1404.6 797L1415.9 826M1424.7 797L1436.3 826M1444.9 797L1456.8 826M1465.1 797L1477.2 826M1485.3 797L1497.6 826M1505.5 797L1518.1 826M1525.7 797L1538.5 826" stroke="#3c3c3c" stroke-width="7.2"/>
<path d="M920.1 797L925.6 826M940.3 797L946 826M960.5 797L966.5 826M980.7 797L986.9 826M1000.9 797L1007.3 826M1021.1 797L1027.8 826M1041.3 797L1048.2 826M1061.4 797L1068.6 826M1081.6 797L1089 826M1101.8 797L1109.5 826M1122 797L1129.9 826M1142.2 797L1150.3 826M1162.4 797L1170.8 826M1182.5 797L1191.2 826M1202.7 797L1211.6 826M1222.9 797L1232 826M1243.1 797L1252.5 826M1263.3 797L1272.9 826M1283.5 797L1293.3 826M1303.6 797L1313.8 826M1323.8 797L1334.2 826M1344 797L1354.6 826M1364.2 797L1375.1 826M1384.4 797L1395.5 826M1404.6 797L1415.9 826M1424.7 797L1436.3 826M1444.9 797L1456.8 826M1465.1 797L1477.2 826M1485.3 797L1497.6 826M1505.5 797L1518.1 826M1525.7 797L1538.5 826" stroke="#969696" stroke-width="4.8"/>
<path d="M920.1 797L925.6 826M940.3 797L946 826M960.5 797L966.5 826M980.7 797L986.9 826M1000.9 797L1007.3 826M1021.1 797L1027.8 826M1041.3 797L1048.2 826M1061.4 797L1068.6 826M1081.6 797L1089 826M1101.8 797L1109.5 826M1122 797L1129.9 826M1142.2 797L1150.3 826M1162.4 797L1170.8 826M1182.5 797L1191.2 826M1202.7 797L1211.6 826M1222.9 797L1232 826M1243.1 797L1252.5 826M1263.3 797L1272.9 826M1283.5 797L1293.3 826M1303.6 797L1313.8 826M1323.8 797L1334.2 826M1344 797L1354.6 826M1364.2 797L1375.1 826M1384.4 797L1395.5 826M1404.6 797L1415.9 826M1424.7 797L1436.3 826M1444.9 797L1456.8 826M1465.1 797L1477.2 826M1485.3 797L1497.6 826M1505.5 797L1518.1 826M1525.7 797L1538.5 826" stroke="#f4f4f4" stroke-width="1.8"/>
<path d="M924.6 745L925.1 755M944.3 745L944.9 755M964 745L964.7 755M983.8 745L984.5 755M1003.5 745L1004.4 755M1023.3 745L1024.2 755M1043 745L1044 755M1062.7 745L1063.8 755M1082.5 745L1083.7 755M1102.2 745L1103.5 755M1122 745L1123.3 755M1141.7 745L1143.1 755M1161.4 745L1163 755M1181.2 745L1182.8 755M1200.9 745L1202.6 755M1220.7 745L1222.4 755M1240.4 745L1242.3 755M1260.2 745L1262.1 755M1279.9 745L1281.9 755M1299.6 745L1301.8 755M1319.4 745L1321.6 755M1339.1 745L1341.4 755M1358.9 745L1361.2 755M1378.6 745L1381.1 755M1398.3 745L1400.9 755M1418.1 745L1420.7 755M1437.8 745L1440.5 755M1457.6 745L1460.4 755M1477.3 745L1480.2 755M1497.1 745L1500 755M1516.8 745L1519.8 755" stroke="#3c3c3c" stroke-width="8" stroke-linecap="butt"/>
<path d="M924.6 745L925.1 755M944.3 745L944.9 755M964 745L964.7 755M983.8 745L984.5 755M1003.5 745L1004.4 755M1023.3 745L1024.2 755M1043 745L1044 755M1062.7 745L1063.8 755M1082.5 745L1083.7 755M1102.2 745L1103.5 755M1122 745L1123.3 755M1141.7 745L1143.1 755M1161.4 745L1163 755M1181.2 745L1182.8 755M1200.9 745L1202.6 755M1220.7 745L1222.4 755M1240.4 745L1242.3 755M1260.2 745L1262.1 755M1279.9 745L1281.9 755M1299.6 745L1301.8 755M1319.4 745L1321.6 755M1339.1 745L1341.4 755M1358.9 745L1361.2 755M1378.6 745L1381.1 755M1398.3 745L1400.9 755M1418.1 745L1420.7 755M1437.8 745L1440.5 755M1457.6 745L1460.4 755M1477.3 745L1480.2 755M1497.1 745L1500 755M1516.8 745L1519.8 755" stroke="#858585" stroke-width="5.5" stroke-linecap="butt"/>
</g>
<path d="M252.6 119.2L312.2 127.3L375.4 119.8L438.6 128.3L501.7 120.9L564.9 129.4L600.6 125.2L586.2 246.8L547.6 251.5L479.3 243.9L411 252.2L342.6 244.6L274.3 252.9L209.9 245.7Z" fill="#2a1508"/>
<path d="M259.7 129.2L262.9 128.4L266.1 128.7L269.2 129.3L272.4 130.9L272.4 130.9L269.2 131.8L266.1 131.6L262.9 130.9L259.7 129.2ZM285.1 132.5L288.3 131.8L291.4 132.1L294.6 132.7L297.8 134.2L297.8 134.2L294.6 135.2L291.4 135L288.3 134.3L285.1 132.5ZM323.1 134.4L326.3 132.9L329.5 132.4L332.7 132.2L335.8 132.9L335.8 132.9L332.7 134.7L329.5 135.3L326.3 135.4L323.1 134.4ZM348.5 131.4L351.7 129.9L354.9 129.4L358 129.2L361.2 129.9L361.2 129.9L358 131.7L354.9 132.3L351.7 132.4L348.5 131.4ZM386.6 130.1L389.7 129.4L392.9 129.7L396.1 130.3L399.3 131.8L399.3 131.8L396.1 132.8L392.9 132.6L389.7 131.9L386.6 130.1ZM411.9 133.5L415.1 132.8L418.3 133.1L421.4 133.7L424.6 135.2L424.6 135.2L421.4 136.2L418.3 136L415.1 135.3L411.9 133.5ZM450 135.4L453.2 133.9L456.3 133.4L459.5 133.2L462.7 133.9L462.7 133.9L459.5 135.7L456.3 136.2L453.2 136.4L450 135.4ZM475.4 132.4L478.5 130.9L481.7 130.4L484.9 130.2L488 130.9L488 130.9L484.9 132.7L481.7 133.2L478.5 133.4L475.4 132.4ZM513.4 131.1L516.6 130.4L519.7 130.7L522.9 131.3L526.1 132.8L526.1 132.8L522.9 133.7L519.7 133.5L516.6 132.9L513.4 131.1ZM538.8 134.5L541.9 133.8L545.1 134.1L548.3 134.7L551.5 136.2L551.5 136.2L548.3 137.1L545.1 136.9L541.9 136.3L538.8 134.5ZM576.8 136.4L580 134.9L583.2 134.3L586.3 134.1L589.5 134.9L589.5 134.9L586.3 136.6L583.2 137.2L580 137.4L576.8 136.4ZM255.9 140L259.1 139.3L262.3 139.6L265.5 140.2L268.7 141.7L268.7 141.7L265.5 142.7L262.3 142.5L259.1 141.8L255.9 140ZM281.5 143.4L284.7 142.7L287.9 142.9L291.1 143.5L294.2 145.1L294.2 145.1L291.1 146L287.9 145.8L284.7 145.2L281.5 143.4ZM319.8 145.3L323 143.7L326.2 143.2L329.4 143L332.6 143.7L332.6 143.7L329.4 145.5L326.2 146.1L323 146.2L319.8 145.3ZM345.4 142.2L348.5 140.7L351.7 140.2L354.9 139.9L358.1 140.7L358.1 140.7L354.9 142.4L351.7 143L348.5 143.2L345.4 142.2ZM383.7 140.9L386.9 140.2L390.1 140.4L393.3 141L396.5 142.5L396.5 142.5L393.3 143.5L390.1 143.3L386.9 142.6L383.7 140.9ZM409.2 144.2L412.4 143.5L415.6 143.8L418.8 144.4L422 145.9L422 145.9L418.8 146.9L415.6 146.6L412.4 146L409.2 144.2ZM447.6 146.1L450.8 144.6L454 144L457.2 143.8L460.3 144.6L460.3 144.6L457.2 146.3L454 146.9L450.8 147.1L447.6 146.1ZM473.1 143L476.3 141.5L479.5 141L482.7 140.8L485.9 141.5L485.9 141.5L482.7 143.3L479.5 143.9L476.3 144L473.1 143ZM511.5 141.7L514.7 141L517.8 141.2L521 141.8L524.2 143.4L524.2 143.4L521 144.3L517.8 144.1L514.7 143.5L511.5 141.7ZM537 145.1L540.2 144.3L543.4 144.6L546.6 145.2L549.8 146.7L549.8 146.7L546.6 147.7L543.4 147.5L540.2 146.8L537 145.1ZM575.3 146.9L578.5 145.4L581.7 144.8L584.9 144.6L588.1 145.4L588.1 145.4L584.9 147.1L581.7 147.7L578.5 147.9L575.3 146.9ZM252.1 150.9L255.3 150.2L258.5 150.5L261.8 151.1L265 152.6L265 152.6L261.8 153.5L258.5 153.3L255.3 152.7L252.1 150.9ZM277.8 154.3L281.1 153.6L284.3 153.8L287.5 154.4L290.7 155.9L290.7 155.9L287.5 156.9L284.3 156.7L281.1 156L277.8 154.3ZM316.5 156.1L319.7 154.6L322.9 154L326.1 153.8L329.3 154.5L329.3 154.5L326.1 156.3L322.9 156.9L319.7 157L316.5 156.1ZM342.2 153L345.4 151.5L348.6 150.9L351.8 150.7L355.1 151.5L355.1 151.5L351.8 153.2L348.6 153.8L345.4 154L342.2 153ZM380.8 151.6L384 150.9L387.2 151.1L390.5 151.7L393.7 153.3L393.7 153.3L390.5 154.2L387.2 154L384 153.4L380.8 151.6ZM406.5 154.9L409.8 154.2L413 154.5L416.2 155L419.4 156.6L419.4 156.6L416.2 157.5L413 157.3L409.8 156.7L406.5 154.9ZM445.2 156.7L448.4 155.2L451.6 154.7L454.8 154.4L458 155.2L458 155.2L454.8 156.9L451.6 157.5L448.4 157.7L445.2 156.7ZM470.9 153.7L474.1 152.1L477.3 151.6L480.5 151.4L483.8 152.1L483.8 152.1L480.5 153.9L477.3 154.5L474.1 154.6L470.9 153.7ZM509.5 152.3L512.7 151.5L515.9 151.8L519.2 152.4L522.4 153.9L522.4 153.9L519.2 154.9L515.9 154.7L512.7 154L509.5 152.3ZM535.2 155.6L538.5 154.9L541.7 155.1L544.9 155.7L548.1 157.3L548.1 157.3L544.9 158.2L541.7 158L538.5 157.4L535.2 155.6ZM573.9 157.4L577.1 155.9L580.3 155.3L583.5 155.1L586.7 155.9L586.7 155.9L583.5 157.6L580.3 158.2L577.1 158.4L573.9 157.4ZM248.3 161.8L251.5 161.1L254.8 161.3L258 161.9L261.2 163.5L261.2 163.5L258 164.4L254.8 164.2L251.5 163.6L248.3 161.8ZM274.2 165.1L277.5 164.4L280.7 164.6L283.9 165.2L287.2 166.8L287.2 166.8L283.9 167.7L280.7 167.5L277.5 166.9L274.2 165.1ZM313.1 166.9L316.3 165.4L319.6 164.8L322.8 164.6L326.1 165.3L326.1 165.3L322.8 167.1L319.6 167.7L316.3 167.9L313.1 166.9ZM339 163.8L342.3 162.3L345.5 161.7L348.8 161.5L352 162.2L352 162.2L348.8 164L345.5 164.6L342.3 164.8L339 163.8ZM377.9 162.3L381.2 161.6L384.4 161.8L387.6 162.4L390.9 164L390.9 164L387.6 164.9L384.4 164.7L381.2 164.1L377.9 162.3ZM403.8 165.6L407.1 164.9L410.3 165.1L413.6 165.7L416.8 167.3L416.8 167.3L413.6 168.2L410.3 168L407.1 167.4L403.8 165.6ZM442.7 167.4L446 165.9L449.2 165.3L452.5 165.1L455.7 165.8L455.7 165.8L452.5 167.6L449.2 168.2L446 168.4L442.7 167.4ZM468.7 164.3L471.9 162.8L475.1 162.2L478.4 162L481.6 162.7L481.6 162.7L478.4 164.5L475.1 165.1L471.9 165.3L468.7 164.3ZM507.6 162.8L510.8 162.1L514 162.3L517.3 162.9L520.5 164.5L520.5 164.5L517.3 165.4L514 165.2L510.8 164.6L507.6 162.8ZM533.5 166.1L536.7 165.4L540 165.6L543.2 166.2L546.4 167.8L546.4 167.8L543.2 168.7L540 168.5L536.7 167.9L533.5 166.1ZM572.4 167.9L575.6 166.4L578.9 165.8L582.1 165.6L585.3 166.3L585.3 166.3L582.1 168.1L578.9 168.7L575.6 168.9L572.4 167.9ZM244.5 172.7L247.7 172L251 172.2L254.3 172.8L257.5 174.4L257.5 174.4L254.3 175.3L251 175.1L247.7 174.5L244.5 172.7ZM270.6 176L273.8 175.3L277.1 175.5L280.4 176.1L283.6 177.6L283.6 177.6L280.4 178.6L277.1 178.4L273.8 177.8L270.6 176ZM309.8 177.7L313 176.2L316.3 175.6L319.5 175.4L322.8 176.1L322.8 176.1L319.5 177.9L316.3 178.5L313 178.7L309.8 177.7ZM335.9 174.6L339.1 173L342.4 172.5L345.7 172.3L348.9 173L348.9 173L345.7 174.7L342.4 175.3L339.1 175.5L335.9 174.6ZM375 173.1L378.3 172.3L381.6 172.6L384.8 173.2L388.1 174.7L388.1 174.7L384.8 175.6L381.6 175.5L378.3 174.8L375 173.1ZM401.2 176.3L404.4 175.6L407.7 175.8L410.9 176.4L414.2 178L414.2 178L410.9 178.9L407.7 178.7L404.4 178.1L401.2 176.3ZM440.3 178L443.6 176.5L446.9 175.9L450.1 175.7L453.4 176.5L453.4 176.5L450.1 178.2L446.9 178.8L443.6 179L440.3 178ZM466.4 174.9L469.7 173.4L473 172.8L476.2 172.6L479.5 173.3L479.5 173.3L476.2 175.1L473 175.7L469.7 175.9L466.4 174.9ZM505.6 173.4L508.9 172.7L512.1 172.9L515.4 173.5L518.7 175L518.7 175L515.4 176L512.1 175.8L508.9 175.2L505.6 173.4ZM531.7 176.7L535 175.9L538.3 176.2L541.5 176.8L544.8 178.3L544.8 178.3L541.5 179.3L538.3 179.1L535 178.4L531.7 176.7ZM570.9 178.4L574.2 176.8L577.4 176.3L580.7 176.1L584 176.8L584 176.8L580.7 178.6L577.4 179.2L574.2 179.3L570.9 178.4ZM240.7 183.6L243.9 182.9L247.2 183.1L250.5 183.7L253.8 185.2L253.8 185.2L250.5 186.2L247.2 186L243.9 185.4L240.7 183.6ZM267 186.9L270.2 186.1L273.5 186.4L276.8 186.9L280.1 188.5L280.1 188.5L276.8 189.4L273.5 189.2L270.2 188.6L267 186.9ZM306.4 188.5L309.7 187L313 186.4L316.3 186.2L319.6 186.9L319.6 186.9L316.3 188.7L313 189.3L309.7 189.5L306.4 188.5ZM332.7 185.3L336 183.8L339.3 183.2L342.6 183L345.9 183.8L345.9 183.8L342.6 185.5L339.3 186.1L336 186.3L332.7 185.3ZM372.2 183.8L375.4 183.1L378.7 183.3L382 183.9L385.3 185.4L385.3 185.4L382 186.4L378.7 186.2L375.4 185.6L372.2 183.8ZM398.5 187L401.7 186.3L405 186.5L408.3 187.1L411.6 188.6L411.6 188.6L408.3 189.6L405 189.4L401.7 188.8L398.5 187ZM437.9 188.7L441.2 187.2L444.5 186.6L447.8 186.4L451.1 187.1L451.1 187.1L447.8 188.9L444.5 189.5L441.2 189.6L437.9 188.7ZM464.2 185.5L467.5 184L470.8 183.4L474.1 183.2L477.4 183.9L477.4 183.9L474.1 185.7L470.8 186.3L467.5 186.5L464.2 185.5ZM503.7 184L506.9 183.2L510.2 183.5L513.5 184.1L516.8 185.6L516.8 185.6L513.5 186.5L510.2 186.4L506.9 185.7L503.7 184ZM530 187.2L533.2 186.5L536.5 186.7L539.8 187.3L543.1 188.8L543.1 188.8L539.8 189.8L536.5 189.6L533.2 189L530 187.2ZM569.4 188.9L572.7 187.3L576 186.8L579.3 186.5L582.6 187.3L582.6 187.3L579.3 189L576 189.6L572.7 189.8L569.4 188.9ZM236.8 194.5L240.1 193.8L243.5 194L246.8 194.6L250.1 196.1L250.1 196.1L246.8 197.1L243.5 196.9L240.1 196.3L236.8 194.5ZM263.3 197.7L266.6 197L269.9 197.2L273.3 197.8L276.6 199.3L276.6 199.3L273.3 200.3L269.9 200.1L266.6 199.5L263.3 197.7ZM303.1 199.3L306.4 197.8L309.7 197.2L313 197L316.3 197.7L316.3 197.7L313 199.5L309.7 200.1L306.4 200.3L303.1 199.3ZM329.5 196.1L332.9 194.6L336.2 194L339.5 193.8L342.8 194.5L342.8 194.5L339.5 196.3L336.2 196.9L332.9 197.1L329.5 196.1ZM369.3 194.5L372.6 193.8L375.9 194L379.2 194.6L382.5 196.1L382.5 196.1L379.2 197.1L375.9 196.9L372.6 196.3L369.3 194.5ZM395.8 197.7L399.1 197L402.4 197.2L405.7 197.8L409 199.3L409 199.3L405.7 200.3L402.4 200.1L399.1 199.5L395.8 197.7ZM435.5 199.3L438.8 197.8L442.1 197.2L445.4 197L448.7 197.7L448.7 197.7L445.4 199.5L442.1 200.1L438.8 200.3L435.5 199.3ZM462 196.1L465.3 194.6L468.6 194L471.9 193.8L475.2 194.5L475.2 194.5L471.9 196.3L468.6 196.9L465.3 197.1L462 196.1ZM501.7 194.5L505 193.8L508.3 194L511.6 194.6L515 196.1L515 196.1L511.6 197.1L508.3 196.9L505 196.3L501.7 194.5ZM528.2 197.7L531.5 197L534.8 197.2L538.1 197.8L541.4 199.3L541.4 199.3L538.1 200.3L534.8 200.1L531.5 199.5L528.2 197.7ZM567.9 199.4L571.2 197.8L574.6 197.2L577.9 197L581.2 197.8L581.2 197.8L577.9 199.5L574.6 200.1L571.2 200.3L567.9 199.4ZM233 205.4L236.4 204.7L239.7 204.9L243 205.5L246.4 207L246.4 207L243 208L239.7 207.8L236.4 207.2L233 205.4ZM259.7 208.6L263 207.8L266.4 208.1L269.7 208.6L273 210.2L273 210.2L269.7 211.1L266.4 210.9L263 210.3L259.7 208.6ZM299.7 210.1L303 208.6L306.4 208L309.7 207.8L313 208.5L313 208.5L309.7 210.3L306.4 210.9L303 211.1L299.7 210.1ZM326.4 206.9L329.7 205.4L333 204.8L336.4 204.6L339.7 205.3L339.7 205.3L336.4 207.1L333 207.7L329.7 207.9L326.4 206.9ZM366.4 205.3L369.7 204.5L373.1 204.7L376.4 205.3L379.7 206.8L379.7 206.8L376.4 207.8L373.1 207.6L369.7 207L366.4 205.3ZM393.1 208.4L396.4 207.7L399.7 207.9L403.1 208.5L406.4 210L406.4 210L403.1 211L399.7 210.8L396.4 210.2L393.1 208.4ZM433.1 210L436.4 208.4L439.7 207.9L443.1 207.6L446.4 208.4L446.4 208.4L443.1 210.1L439.7 210.8L436.4 210.9L433.1 210ZM459.7 206.8L463.1 205.2L466.4 204.6L469.8 204.4L473.1 205.1L473.1 205.1L469.8 206.9L466.4 207.5L463.1 207.7L459.7 206.8ZM499.8 205.1L503.1 204.4L506.4 204.6L509.8 205.2L513.1 206.7L513.1 206.7L509.8 207.7L506.4 207.5L503.1 206.9L499.8 205.1ZM526.4 208.3L529.8 207.5L533.1 207.8L536.4 208.3L539.8 209.9L539.8 209.9L536.4 210.8L533.1 210.6L529.8 210L526.4 208.3ZM566.4 209.8L569.8 208.3L573.1 207.7L576.4 207.5L579.8 208.2L579.8 208.2L576.4 210L573.1 210.6L569.8 210.8L566.4 209.8ZM229.2 216.3L232.6 215.6L235.9 215.8L239.3 216.3L242.6 217.9L242.6 217.9L239.3 218.8L235.9 218.7L232.6 218L229.2 216.3ZM256.1 219.4L259.4 218.7L262.8 218.9L266.1 219.5L269.5 221L269.5 221L266.1 222L262.8 221.8L259.4 221.2L256.1 219.4ZM296.4 220.9L299.7 219.4L303.1 218.8L306.4 218.6L309.8 219.3L309.8 219.3L306.4 221.1L303.1 221.7L299.7 221.9L296.4 220.9ZM323.2 217.7L326.6 216.1L329.9 215.6L333.3 215.3L336.6 216.1L336.6 216.1L333.3 217.8L329.9 218.4L326.6 218.6L323.2 217.7ZM363.5 216L366.9 215.2L370.2 215.5L373.6 216L376.9 217.6L376.9 217.6L373.6 218.5L370.2 218.3L366.9 217.7L363.5 216ZM390.4 219.1L393.7 218.4L397.1 218.6L400.4 219.2L403.8 220.7L403.8 220.7L400.4 221.7L397.1 221.5L393.7 220.9L390.4 219.1ZM430.7 220.6L434 219.1L437.4 218.5L440.7 218.3L444.1 219L444.1 219L440.7 220.8L437.4 221.4L434 221.6L430.7 220.6ZM457.5 217.4L460.9 215.8L464.2 215.3L467.6 215L471 215.7L471 215.7L467.6 217.5L464.2 218.1L460.9 218.3L457.5 217.4ZM497.8 215.7L501.2 214.9L504.5 215.2L507.9 215.7L511.2 217.3L511.2 217.3L507.9 218.2L504.5 218L501.2 217.4L497.8 215.7ZM524.7 218.8L528 218.1L531.4 218.3L534.7 218.9L538.1 220.4L538.1 220.4L534.7 221.4L531.4 221.2L528 220.6L524.7 218.8ZM565 220.3L568.3 218.8L571.7 218.2L575 218L578.4 218.7L578.4 218.7L575 220.5L571.7 221.1L568.3 221.3L565 220.3ZM225.4 227.2L228.8 226.4L232.1 226.7L235.5 227.2L238.9 228.7L238.9 228.7L235.5 229.7L232.1 229.5L228.8 228.9L225.4 227.2ZM252.4 230.3L255.8 229.6L259.2 229.8L262.6 230.3L266 231.8L266 231.8L262.6 232.8L259.2 232.6L255.8 232L252.4 230.3ZM293 231.8L296.4 230.2L299.8 229.6L303.1 229.4L306.5 230.1L306.5 230.1L303.1 231.9L299.8 232.5L296.4 232.7L293 231.8ZM320.1 228.5L323.4 226.9L326.8 226.3L330.2 226.1L333.6 226.8L333.6 226.8L330.2 228.6L326.8 229.2L323.4 229.4L320.1 228.5ZM360.6 226.7L364 226L367.4 226.2L370.8 226.8L374.1 228.3L374.1 228.3L370.8 229.2L367.4 229.1L364 228.5L360.6 226.7ZM387.7 229.8L391.1 229.1L394.4 229.3L397.8 229.9L401.2 231.4L401.2 231.4L397.8 232.4L394.4 232.2L391.1 231.6L387.7 229.8ZM428.2 231.3L431.6 229.7L435 229.2L438.4 228.9L441.8 229.6L441.8 229.6L438.4 231.4L435 232L431.6 232.2L428.2 231.3ZM455.3 228L458.7 226.5L462.1 225.9L465.4 225.6L468.8 226.3L468.8 226.3L465.4 228.1L462.1 228.7L458.7 228.9L455.3 228ZM495.9 226.3L499.2 225.5L502.6 225.7L506 226.3L509.4 227.8L509.4 227.8L506 228.8L502.6 228.6L499.2 228L495.9 226.3ZM522.9 229.4L526.3 228.6L529.7 228.8L533.1 229.4L536.4 230.9L536.4 230.9L533.1 231.9L529.7 231.7L526.3 231.1L522.9 229.4ZM563.5 230.8L566.9 229.3L570.2 228.7L573.6 228.5L577 229.2L577 229.2L573.6 230.9L570.2 231.6L566.9 231.8L563.5 230.8ZM221.6 238.1L225 237.3L228.4 237.5L231.8 238.1L235.2 239.6L235.2 239.6L231.8 240.6L228.4 240.4L225 239.8L221.6 238.1ZM248.8 241.2L252.2 240.4L255.6 240.6L259 241.2L262.4 242.7L262.4 242.7L259 243.7L255.6 243.5L252.2 242.9L248.8 241.2ZM289.7 242.6L293.1 241L296.5 240.4L299.9 240.2L303.3 240.9L303.3 240.9L299.9 242.7L296.5 243.3L293.1 243.5L289.7 242.6ZM316.9 239.2L320.3 237.7L323.7 237.1L327.1 236.9L330.5 237.6L330.5 237.6L327.1 239.4L323.7 240L320.3 240.2L316.9 239.2ZM357.7 237.5L361.1 236.7L364.6 236.9L368 237.5L371.4 239L371.4 239L368 240L364.6 239.8L361.1 239.2L357.7 237.5ZM385 240.5L388.4 239.8L391.8 240L395.2 240.5L398.6 242.1L398.6 242.1L395.2 243L391.8 242.9L388.4 242.3L385 240.5ZM425.8 241.9L429.2 240.4L432.6 239.8L436 239.6L439.4 240.3L439.4 240.3L436 242.1L432.6 242.7L429.2 242.9L425.8 241.9ZM453.1 238.6L456.5 237.1L459.9 236.5L463.3 236.2L466.7 237L466.7 237L463.3 238.7L459.9 239.4L456.5 239.6L453.1 238.6ZM493.9 236.8L497.3 236.1L500.7 236.3L504.1 236.8L507.5 238.4L507.5 238.4L504.1 239.3L500.7 239.2L497.3 238.6L493.9 236.8ZM521.1 239.9L524.6 239.2L528 239.4L531.4 239.9L534.8 241.4L534.8 241.4L531.4 242.4L528 242.2L524.6 241.6L521.1 239.9ZM562 241.3L565.4 239.8L568.8 239.2L572.2 238.9L575.6 239.7L575.6 239.7L572.2 241.4L568.8 242.1L565.4 242.3L562 241.3Z" fill="#fff"/>
<path d="M249 122L312.2 130.5L375.4 123.1L438.6 131.6L501.7 124.1L564.9 132.7L606 127.8M245.1 132.9L308.7 141.4L372.4 133.8L436 142.3L499.7 134.7L563.4 143.2L604.7 138.3M241.2 143.8L305.3 152.2L369.4 144.6L433.5 152.9L497.7 145.3L561.8 153.7L603.5 148.7M237.3 154.7L301.9 163L366.4 155.3L431 163.6L495.6 155.9L560.2 164.2L602.2 159.2M233.4 165.6L298.4 173.8L363.5 166.1L428.5 174.3L493.6 166.5L558.6 174.7L600.9 169.6M229.5 176.5L295 184.7L360.5 176.8L426 184.9L491.5 177.1L557 185.2L599.6 180.1M225.5 187.5L291.5 195.5L357.5 187.6L423.5 195.6L489.5 187.6L555.5 195.7L598.4 190.5M221.6 198.4L288.1 206.3L354.5 198.3L421 206.3L487.4 198.2L553.9 206.2L597.1 201M217.7 209.3L284.6 217.2L351.6 209L418.5 216.9L485.4 208.8L552.3 216.7L595.8 211.4M213.8 220.2L281.2 228L348.6 219.8L416 227.6L483.4 219.4L550.7 227.2L594.5 221.9M209.9 231.1L277.8 238.8L345.6 230.5L413.5 238.3L481.3 230L549.2 237.7L593.3 232.3M206 242L274.3 249.6L342.6 241.3L411 248.9L479.3 240.6L547.6 248.2L592 242.8" stroke="#42200a" stroke-width="7.7" fill="none" stroke-linejoin="round" stroke-linecap="round"/>
<path d="M249 122L312.2 130.5L375.4 123.1L438.6 131.6L501.7 124.1L564.9 132.7L606 127.8M245.1 132.9L308.7 141.4L372.4 133.8L436 142.3L499.7 134.7L563.4 143.2L604.7 138.3M241.2 143.8L305.3 152.2L369.4 144.6L433.5 152.9L497.7 145.3L561.8 153.7L603.5 148.7M237.3 154.7L301.9 163L366.4 155.3L431 163.6L495.6 155.9L560.2 164.2L602.2 159.2M233.4 165.6L298.4 173.8L363.5 166.1L428.5 174.3L493.6 166.5L558.6 174.7L600.9 169.6M229.5 176.5L295 184.7L360.5 176.8L426 184.9L491.5 177.1L557 185.2L599.6 180.1M225.5 187.5L291.5 195.5L357.5 187.6L423.5 195.6L489.5 187.6L555.5 195.7L598.4 190.5M221.6 198.4L288.1 206.3L354.5 198.3L421 206.3L487.4 198.2L553.9 206.2L597.1 201M217.7 209.3L284.6 217.2L351.6 209L418.5 216.9L485.4 208.8L552.3 216.7L595.8 211.4M213.8 220.2L281.2 228L348.6 219.8L416 227.6L483.4 219.4L550.7 227.2L594.5 221.9M209.9 231.1L277.8 238.8L345.6 230.5L413.5 238.3L481.3 230L549.2 237.7L593.3 232.3M206 242L274.3 249.6L342.6 241.3L411 248.9L479.3 240.6L547.6 248.2L592 242.8" stroke="#b8621e" stroke-width="5.9" fill="none" stroke-linejoin="round" stroke-linecap="round"/>
<path d="M249 120.8L312.2 129.4L375.4 121.9L438.6 130.4L501.7 122.9L564.9 131.5L606 126.6M245.1 131.7L308.7 140.2L372.4 132.6L436 141.1L499.7 133.5L563.4 142L604.7 137.1M241.2 142.6L305.3 151L369.4 143.4L433.5 151.8L497.7 144.1L561.8 152.5L603.5 147.5M237.3 153.5L301.9 161.8L366.4 154.1L431 162.4L495.6 154.7L560.2 163L602.2 158M233.4 164.5L298.4 172.7L363.5 164.9L428.5 173.1L493.6 165.3L558.6 173.5L600.9 168.4M229.5 175.4L295 183.5L360.5 175.6L426 183.8L491.5 175.9L557 184L599.6 178.9M225.5 186.3L291.5 194.3L357.5 186.4L423.5 194.4L489.5 186.5L555.5 194.5L598.4 189.3M221.6 197.2L288.1 205.2L354.5 197.1L421 205.1L487.4 197.1L553.9 205L597.1 199.8M217.7 208.1L284.6 216L351.6 207.9L418.5 215.8L485.4 207.6L552.3 215.5L595.8 210.3M213.8 219L281.2 226.8L348.6 218.6L416 226.4L483.4 218.2L550.7 226L594.5 220.7M209.9 229.9L277.8 237.6L345.6 229.4L413.5 237.1L481.3 228.8L549.2 236.5L593.3 231.2M206 240.8L274.3 248.5L342.6 240.1L411 247.8L479.3 239.4L547.6 247.1L592 241.6" stroke="#d0823f" stroke-width="1.2" fill="none" opacity="0.7"/>
<path d="M1121.2 202.6L1184.6 211.7L1252.5 206.1L1311.6 214.7L1427.8 578.7L1356 567.5L1273.6 575.5L1196.6 563.5Z" fill="#2e1709"/>
<path d="M1124.1 212.1L1130 211.3L1135.8 211.8L1141.6 212.9L1147.4 215.5L1147.4 215.5L1141.6 216.7L1135.8 216.2L1130 215L1124.1 212.1ZM1156.7 216.8L1162.5 216L1168.3 216.5L1174.2 217.6L1180 220.2L1180 220.2L1174.2 221.4L1168.3 220.9L1162.5 219.7L1156.7 216.8ZM1192.3 220.6L1198.1 218.4L1203.9 217.7L1209.7 217.4L1215.5 218.7L1215.5 218.7L1209.7 221.2L1203.9 222L1198.1 222.1L1192.3 220.6ZM1224.8 217.9L1230.7 215.7L1236.5 215L1242.3 214.8L1248.1 216L1248.1 216L1242.3 218.5L1236.5 219.3L1230.7 219.5L1224.8 217.9ZM1260.4 216.4L1266.2 215.5L1272 216.1L1277.8 217.2L1283.6 219.7L1283.6 219.7L1277.8 220.9L1272 220.4L1266.2 219.3L1260.4 216.4ZM1293 221.1L1298.8 220.2L1304.6 220.8L1310.4 221.9L1316.2 224.4L1316.2 224.4L1310.4 225.6L1304.6 225.1L1298.8 224L1293 221.1ZM1126.8 224.3L1132.7 223.4L1138.6 224L1144.5 225.1L1150.4 227.7L1150.4 227.7L1144.5 229L1138.6 228.5L1132.7 227.3L1126.8 224.3ZM1159.4 229L1165.3 228.1L1171.2 228.7L1177.1 229.8L1182.9 232.5L1182.9 232.5L1177.1 233.7L1171.2 233.2L1165.3 232L1159.4 229ZM1195.4 232.8L1201.3 230.6L1207.2 229.8L1213.1 229.6L1219 230.9L1219 230.9L1213.1 233.5L1207.2 234.3L1201.3 234.5L1195.4 232.8ZM1228 230.2L1233.9 227.9L1239.8 227.2L1245.7 226.9L1251.6 228.2L1251.6 228.2L1245.7 230.8L1239.8 231.6L1233.9 231.8L1228 230.2ZM1264.1 228.6L1270 227.7L1275.9 228.3L1281.8 229.4L1287.6 232L1287.6 232L1281.8 233.3L1275.9 232.7L1270 231.6L1264.1 228.6ZM1296.6 233.3L1302.5 232.4L1308.4 233L1314.3 234.1L1320.2 236.7L1320.2 236.7L1314.3 238L1308.4 237.5L1302.5 236.3L1296.6 233.3ZM1129.5 236.7L1135.5 235.8L1141.5 236.3L1147.4 237.5L1153.4 240.2L1153.4 240.2L1147.4 241.5L1141.5 241L1135.5 239.8L1129.5 236.7ZM1162 241.4L1168 240.5L1174 241.1L1180 242.2L1186 244.9L1186 244.9L1180 246.2L1174 245.7L1168 244.5L1162 241.4ZM1198.6 245.3L1204.6 243L1210.6 242.2L1216.6 242L1222.6 243.3L1222.6 243.3L1216.6 246L1210.6 246.8L1204.6 247L1198.6 245.3ZM1231.2 242.6L1237.2 240.3L1243.1 239.5L1249.1 239.3L1255.1 240.6L1255.1 240.6L1249.1 243.3L1243.1 244.1L1237.2 244.3L1231.2 242.6ZM1267.8 241L1273.8 240L1279.7 240.6L1285.7 241.8L1291.7 244.5L1291.7 244.5L1285.7 245.8L1279.7 245.3L1273.8 244L1267.8 241ZM1300.3 245.7L1306.3 244.8L1312.3 245.4L1318.3 246.5L1324.2 249.2L1324.2 249.2L1318.3 250.5L1312.3 250L1306.3 248.8L1300.3 245.7ZM1132.2 249.2L1138.3 248.2L1144.4 248.8L1150.4 250L1156.5 252.8L1156.5 252.8L1150.4 254.2L1144.4 253.6L1138.3 252.4L1132.2 249.2ZM1164.8 254L1170.8 253L1176.9 253.6L1183 254.7L1189 257.5L1189 257.5L1183 258.9L1176.9 258.4L1170.8 257.1L1164.8 254ZM1201.9 257.9L1208 255.5L1214 254.7L1220.1 254.5L1226.2 255.9L1226.2 255.9L1220.1 258.6L1214 259.5L1208 259.7L1201.9 257.9ZM1234.4 255.2L1240.5 252.8L1246.5 252L1252.6 251.8L1258.7 253.2L1258.7 253.2L1252.6 255.9L1246.5 256.8L1240.5 256.9L1234.4 255.2ZM1271.5 253.6L1277.6 252.6L1283.7 253.2L1289.8 254.3L1295.8 257.1L1295.8 257.1L1289.8 258.5L1283.7 257.9L1277.6 256.7L1271.5 253.6ZM1304.1 258.3L1310.1 257.3L1316.2 257.9L1322.3 259.1L1328.3 261.8L1328.3 261.8L1322.3 263.2L1316.2 262.7L1310.1 261.4L1304.1 258.3ZM1135 261.9L1141.2 260.9L1147.3 261.5L1153.5 262.7L1159.6 265.5L1159.6 265.5L1153.5 267L1147.3 266.4L1141.2 265.2L1135 261.9ZM1167.5 266.7L1173.7 265.6L1179.8 266.2L1186 267.4L1192.1 270.3L1192.1 270.3L1186 271.7L1179.8 271.2L1173.7 269.9L1167.5 266.7ZM1205.2 270.7L1211.3 268.2L1217.5 267.4L1223.7 267.2L1229.8 268.6L1229.8 268.6L1223.7 271.5L1217.5 272.4L1211.3 272.5L1205.2 270.7ZM1237.7 268L1243.8 265.5L1250 264.7L1256.2 264.5L1262.3 265.9L1262.3 265.9L1256.2 268.7L1250 269.6L1243.8 269.8L1237.7 268ZM1275.4 266.3L1281.5 265.2L1287.7 265.8L1293.8 267L1300 269.9L1300 269.9L1293.8 271.3L1287.7 270.8L1281.5 269.5L1275.4 266.3ZM1307.9 271L1314 270L1320.2 270.6L1326.3 271.8L1332.5 274.6L1332.5 274.6L1326.3 276.1L1320.2 275.5L1314 274.3L1307.9 271ZM1137.8 274.8L1144.1 273.7L1150.3 274.3L1156.6 275.6L1162.8 278.5L1162.8 278.5L1156.6 280L1150.3 279.4L1144.1 278.2L1137.8 274.8ZM1170.3 279.6L1176.5 278.5L1182.8 279.1L1189 280.3L1195.3 283.2L1195.3 283.2L1189 284.7L1182.8 284.2L1176.5 282.9L1170.3 279.6ZM1208.5 283.7L1214.8 281.1L1221 280.3L1227.3 280L1233.5 281.5L1233.5 281.5L1227.3 284.5L1221 285.4L1214.8 285.5L1208.5 283.7ZM1241 280.9L1247.2 278.4L1253.5 277.5L1259.7 277.3L1266 278.8L1266 278.8L1259.7 281.7L1253.5 282.6L1247.2 282.8L1241 280.9ZM1279.2 279.2L1285.5 278.1L1291.7 278.7L1298 279.9L1304.2 282.8L1304.2 282.8L1298 284.3L1291.7 283.8L1285.5 282.5L1279.2 279.2ZM1311.7 283.9L1318 282.8L1324.2 283.5L1330.5 284.7L1336.7 287.6L1336.7 287.6L1330.5 289.1L1324.2 288.6L1318 287.3L1311.7 283.9ZM1140.7 287.9L1147 286.7L1153.3 287.3L1159.7 288.6L1166 291.6L1166 291.6L1159.7 293.2L1153.3 292.6L1147 291.3L1140.7 287.9ZM1173.1 292.6L1179.5 291.5L1185.8 292.1L1192.1 293.4L1198.5 296.4L1198.5 296.4L1192.1 297.9L1185.8 297.4L1179.5 296.1L1173.1 292.6ZM1211.9 296.8L1218.2 294.2L1224.6 293.3L1230.9 293.1L1237.3 294.6L1237.3 294.6L1230.9 297.7L1224.6 298.6L1218.2 298.7L1211.9 296.8ZM1244.4 294L1250.7 291.4L1257 290.5L1263.4 290.3L1269.7 291.8L1269.7 291.8L1263.4 294.9L1257 295.8L1250.7 296L1244.4 294ZM1283.1 292.3L1289.5 291.1L1295.8 291.7L1302.2 293L1308.5 296L1308.5 296L1302.2 297.5L1295.8 297L1289.5 295.7L1283.1 292.3ZM1315.6 297L1321.9 295.9L1328.3 296.5L1334.6 297.7L1341 300.7L1341 300.7L1334.6 302.3L1328.3 301.8L1321.9 300.5L1315.6 297ZM1143.5 301.1L1150 299.9L1156.4 300.5L1162.8 301.8L1169.3 304.9L1169.3 304.9L1162.8 306.5L1156.4 306L1150 304.6L1143.5 301.1ZM1176 305.9L1182.4 304.7L1188.8 305.3L1195.3 306.6L1201.7 309.7L1201.7 309.7L1195.3 311.3L1188.8 310.7L1182.4 309.4L1176 305.9ZM1215.3 310.1L1221.8 307.4L1228.2 306.5L1234.6 306.3L1241 307.9L1241 307.9L1234.6 311L1228.2 311.9L1221.8 312.1L1215.3 310.1ZM1247.8 307.3L1254.2 304.6L1260.6 303.7L1267.1 303.5L1273.5 305.1L1273.5 305.1L1267.1 308.2L1260.6 309.2L1254.2 309.3L1247.8 307.3ZM1287.1 305.5L1293.5 304.3L1300 304.9L1306.4 306.2L1312.8 309.3L1312.8 309.3L1306.4 310.9L1300 310.4L1293.5 309L1287.1 305.5ZM1319.6 310.3L1326 309.1L1332.4 309.7L1338.8 311L1345.3 314.1L1345.3 314.1L1338.8 315.7L1332.4 315.1L1326 313.8L1319.6 310.3ZM1146.5 314.5L1153 313.2L1159.5 313.8L1166 315.1L1172.6 318.3L1172.6 318.3L1166 320L1159.5 319.5L1153 318.1L1146.5 314.5ZM1178.9 319.3L1185.4 318L1191.9 318.6L1198.4 319.9L1205 323.1L1205 323.1L1198.4 324.8L1191.9 324.3L1185.4 322.9L1178.9 319.3ZM1218.8 323.5L1225.3 320.8L1231.8 319.8L1238.4 319.6L1244.9 321.3L1244.9 321.3L1238.4 324.5L1231.8 325.5L1225.3 325.6L1218.8 323.5ZM1251.2 320.7L1257.7 317.9L1264.3 317L1270.8 316.8L1277.3 318.5L1277.3 318.5L1270.8 321.7L1264.3 322.7L1257.7 322.8L1251.2 320.7ZM1291.1 318.9L1297.7 317.6L1304.2 318.3L1310.7 319.6L1317.2 322.8L1317.2 322.8L1310.7 324.4L1304.2 323.9L1297.7 322.5L1291.1 318.9ZM1323.5 323.7L1330.1 322.4L1336.6 323.1L1343.1 324.4L1349.6 327.5L1349.6 327.5L1343.1 329.2L1336.6 328.7L1330.1 327.3L1323.5 323.7ZM1149.4 328L1156 326.7L1162.6 327.3L1169.3 328.7L1175.9 331.9L1175.9 331.9L1169.3 333.7L1162.6 333.2L1156 331.7L1149.4 328ZM1181.8 332.8L1188.4 331.5L1195 332.1L1201.7 333.5L1208.3 336.7L1208.3 336.7L1201.7 338.5L1195 338L1188.4 336.5L1181.8 332.8ZM1222.3 337.2L1228.9 334.3L1235.5 333.4L1242.2 333.1L1248.8 334.9L1248.8 334.9L1242.2 338.2L1235.5 339.2L1228.9 339.3L1222.3 337.2ZM1254.7 334.3L1261.3 331.5L1267.9 330.5L1274.6 330.3L1281.2 332L1281.2 332L1274.6 335.4L1267.9 336.4L1261.3 336.5L1254.7 334.3ZM1295.2 332.5L1301.8 331.2L1308.4 331.8L1315.1 333.1L1321.7 336.4L1321.7 336.4L1315.1 338.2L1308.4 337.6L1301.8 336.2L1295.2 332.5ZM1327.6 337.3L1334.2 336L1340.8 336.6L1347.5 337.9L1354.1 341.2L1354.1 341.2L1347.5 343L1340.8 342.4L1334.2 341L1327.6 337.3ZM1152.4 341.7L1159.1 340.4L1165.8 341L1172.5 342.4L1179.3 345.7L1179.3 345.7L1172.5 347.6L1165.8 347L1159.1 345.6L1152.4 341.7ZM1184.8 346.5L1191.5 345.2L1198.2 345.8L1204.9 347.2L1211.6 350.5L1211.6 350.5L1204.9 352.4L1198.2 351.8L1191.5 350.4L1184.8 346.5ZM1225.9 351L1232.6 348L1239.3 347.1L1246 346.8L1252.7 348.6L1252.7 348.6L1246 352L1239.3 353.1L1232.6 353.2L1225.9 351ZM1258.2 348.1L1264.9 345.2L1271.7 344.2L1278.4 344L1285.1 345.8L1285.1 345.8L1278.4 349.2L1271.7 350.2L1264.9 350.4L1258.2 348.1ZM1299.3 346.2L1306 344.8L1312.7 345.5L1319.5 346.8L1326.2 350.2L1326.2 350.2L1319.5 352L1312.7 351.5L1306 350L1299.3 346.2ZM1331.7 351L1338.4 349.7L1345.1 350.3L1351.8 351.7L1358.6 355L1358.6 355L1351.8 356.9L1345.1 356.3L1338.4 354.9L1331.7 351ZM1155.4 355.6L1162.2 354.2L1169.1 354.8L1175.9 356.2L1182.7 359.7L1182.7 359.7L1175.9 361.6L1169.1 361L1162.2 359.6L1155.4 355.6ZM1187.8 360.4L1194.6 359L1201.4 359.7L1208.2 361.1L1215 364.5L1215 364.5L1208.2 366.4L1201.4 365.9L1194.6 364.4L1187.8 360.4ZM1229.5 364.9L1236.3 361.9L1243.1 360.9L1249.9 360.7L1256.7 362.5L1256.7 362.5L1249.9 366.1L1243.1 367.1L1236.3 367.3L1229.5 364.9ZM1261.8 362.1L1268.6 359L1275.4 358.1L1282.2 357.8L1289.1 359.7L1289.1 359.7L1282.2 363.2L1275.4 364.3L1268.6 364.4L1261.8 362.1ZM1303.5 360.1L1310.3 358.7L1317.1 359.3L1323.9 360.7L1330.7 364.2L1330.7 364.2L1323.9 366.1L1317.1 365.5L1310.3 364.1L1303.5 360.1ZM1335.8 364.9L1342.6 363.5L1349.5 364.2L1356.3 365.6L1363.1 369L1363.1 369L1356.3 370.9L1349.5 370.4L1342.6 368.9L1335.8 364.9ZM1158.5 369.7L1165.4 368.2L1172.3 368.8L1179.2 370.3L1186.1 373.8L1186.1 373.8L1179.2 375.8L1172.3 375.2L1165.4 373.7L1158.5 369.7ZM1190.8 374.5L1197.7 373L1204.6 373.7L1211.5 375.1L1218.5 378.6L1218.5 378.6L1211.5 380.6L1204.6 380.1L1197.7 378.6L1190.8 374.5ZM1233.1 379.1L1240 376L1246.9 375L1253.8 374.7L1260.7 376.6L1260.7 376.6L1253.8 380.3L1246.9 381.3L1240 381.5L1233.1 379.1ZM1265.4 376.2L1272.3 373.1L1279.2 372.1L1286.2 371.9L1293.1 373.8L1293.1 373.8L1286.2 377.4L1279.2 378.5L1272.3 378.6L1265.4 376.2ZM1307.7 374.2L1314.6 372.7L1321.5 373.4L1328.4 374.8L1335.4 378.3L1335.4 378.3L1328.4 380.3L1321.5 379.8L1314.6 378.3L1307.7 374.2ZM1340 379L1346.9 377.6L1353.9 378.2L1360.8 379.6L1367.7 383.2L1367.7 383.2L1360.8 385.2L1353.9 384.6L1346.9 383.1L1340 379ZM1161.6 383.9L1168.6 382.4L1175.6 383L1182.6 384.5L1189.6 388.1L1189.6 388.1L1182.6 390.2L1175.6 389.6L1168.6 388.1L1161.6 383.9ZM1193.9 388.7L1200.9 387.2L1207.9 387.9L1214.9 389.3L1221.9 393L1221.9 393L1214.9 395L1207.9 394.4L1200.9 392.9L1193.9 388.7ZM1236.8 393.4L1243.8 390.2L1250.8 389.2L1257.8 388.9L1264.8 390.9L1264.8 390.9L1257.8 394.6L1250.8 395.7L1243.8 395.9L1236.8 393.4ZM1269.1 390.5L1276.1 387.3L1283.1 386.3L1290.1 386L1297.1 388L1297.1 388L1290.1 391.7L1283.1 392.8L1276.1 393L1269.1 390.5ZM1312 388.4L1319 386.9L1326 387.6L1333 389L1340 392.7L1340 392.7L1333 394.7L1326 394.1L1319 392.6L1312 388.4ZM1344.3 393.3L1351.3 391.8L1358.3 392.4L1365.3 393.9L1372.3 397.5L1372.3 397.5L1365.3 399.6L1358.3 399L1351.3 397.5L1344.3 393.3ZM1164.7 398.3L1171.8 396.7L1179 397.3L1186.1 398.8L1193.2 402.6L1193.2 402.6L1186.1 404.7L1179 404.1L1171.8 402.6L1164.7 398.3ZM1197 403.1L1204.1 401.5L1211.2 402.2L1218.3 403.7L1225.4 407.4L1225.4 407.4L1218.3 409.6L1211.2 409L1204.1 407.4L1197 403.1ZM1240.5 407.9L1247.6 404.6L1254.7 403.5L1261.9 403.3L1269 405.3L1269 405.3L1261.9 409.2L1254.7 410.3L1247.6 410.4L1240.5 407.9ZM1272.8 405L1279.9 401.7L1287 400.6L1294.1 400.4L1301.2 402.4L1301.2 402.4L1294.1 406.3L1287 407.4L1279.9 407.5L1272.8 405ZM1316.3 402.9L1323.4 401.3L1330.5 401.9L1337.6 403.4L1344.8 407.1L1344.8 407.1L1337.6 409.3L1330.5 408.7L1323.4 407.1L1316.3 402.9ZM1348.6 407.7L1355.7 406.1L1362.8 406.8L1369.9 408.3L1377 412L1377 412L1369.9 414.1L1362.8 413.6L1355.7 412L1348.6 407.7ZM1167.9 412.9L1175.1 411.2L1182.3 411.9L1189.6 413.4L1196.8 417.2L1196.8 417.2L1189.6 419.4L1182.3 418.8L1175.1 417.2L1167.9 412.9ZM1200.1 417.7L1207.4 416.1L1214.6 416.7L1221.8 418.2L1229 422.1L1229 422.1L1221.8 424.3L1214.6 423.7L1207.4 422.1L1200.1 417.7ZM1244.3 422.5L1251.5 419.1L1258.7 418L1265.9 417.8L1273.2 419.9L1273.2 419.9L1265.9 423.9L1258.7 425L1251.5 425.2L1244.3 422.5ZM1276.5 419.6L1283.7 416.2L1291 415.1L1298.2 414.9L1305.4 417L1305.4 417L1298.2 420.9L1291 422.1L1283.7 422.3L1276.5 419.6ZM1320.7 417.5L1327.9 415.8L1335.1 416.5L1342.3 418L1349.5 421.8L1349.5 421.8L1342.3 424L1335.1 423.4L1327.9 421.8L1320.7 417.5ZM1352.9 422.3L1360.1 420.7L1367.3 421.3L1374.6 422.8L1381.8 426.7L1381.8 426.7L1374.6 428.9L1367.3 428.3L1360.1 426.7L1352.9 422.3ZM1171.1 427.6L1178.4 425.9L1185.8 426.5L1193.1 428.1L1200.4 432L1200.4 432L1193.1 434.3L1185.8 433.7L1178.4 432.1L1171.1 427.6ZM1203.3 432.5L1210.6 430.7L1218 431.4L1225.3 432.9L1232.6 436.9L1232.6 436.9L1225.3 439.2L1218 438.6L1210.6 437L1203.3 432.5ZM1248.1 437.4L1255.4 433.9L1262.8 432.7L1270.1 432.5L1277.4 434.7L1277.4 434.7L1270.1 438.7L1262.8 439.9L1255.4 440.1L1248.1 437.4ZM1280.3 434.4L1287.6 430.9L1295 429.8L1302.3 429.6L1309.6 431.7L1309.6 431.7L1302.3 435.8L1295 437L1287.6 437.1L1280.3 434.4ZM1325.1 432.2L1332.4 430.5L1339.7 431.1L1347.1 432.7L1354.4 436.6L1354.4 436.6L1347.1 438.9L1339.7 438.3L1332.4 436.7L1325.1 432.2ZM1357.3 437.1L1364.6 435.4L1371.9 436L1379.3 437.6L1386.6 441.5L1386.6 441.5L1379.3 443.8L1371.9 443.2L1364.6 441.6L1357.3 437.1ZM1174.4 442.5L1181.8 440.7L1189.2 441.4L1196.6 442.9L1204.1 447L1204.1 447L1196.6 449.4L1189.2 448.8L1181.8 447.1L1174.4 442.5ZM1206.5 447.4L1214 445.6L1221.4 446.2L1228.8 447.8L1236.2 451.9L1236.2 451.9L1228.8 454.2L1221.4 453.7L1214 452L1206.5 447.4ZM1252 452.3L1259.4 448.7L1266.8 447.6L1274.3 447.4L1281.7 449.6L1281.7 449.6L1274.3 453.8L1266.8 455L1259.4 455.2L1252 452.3ZM1284.1 449.4L1291.6 445.8L1299 444.7L1306.4 444.4L1313.8 446.7L1313.8 446.7L1306.4 450.8L1299 452.1L1291.6 452.2L1284.1 449.4ZM1329.6 447.1L1337 445.3L1344.4 446L1351.9 447.6L1359.3 451.6L1359.3 451.6L1351.9 454L1344.4 453.4L1337 451.8L1329.6 447.1ZM1361.7 452L1369.2 450.2L1376.6 450.9L1384 452.5L1391.5 456.5L1391.5 456.5L1384 458.9L1376.6 458.3L1369.2 456.6L1361.7 452ZM1177.7 457.6L1185.2 455.7L1192.7 456.4L1200.3 458L1207.8 462.1L1207.8 462.1L1200.3 464.6L1192.7 464L1185.2 462.3L1177.7 457.6ZM1209.8 462.4L1217.3 460.6L1224.9 461.3L1232.4 462.9L1239.9 467L1239.9 467L1232.4 469.5L1224.9 468.9L1217.3 467.2L1209.8 462.4ZM1255.9 467.5L1263.4 463.8L1270.9 462.6L1278.5 462.4L1286 464.7L1286 464.7L1278.5 469L1270.9 470.3L1263.4 470.4L1255.9 467.5ZM1288 464.5L1295.5 460.8L1303.1 459.7L1310.6 459.4L1318.1 461.7L1318.1 461.7L1310.6 466L1303.1 467.3L1295.5 467.4L1288 464.5ZM1334.1 462.2L1341.6 460.4L1349.2 461L1356.7 462.7L1364.2 466.8L1364.2 466.8L1356.7 469.3L1349.2 468.7L1341.6 467L1334.1 462.2ZM1366.2 467.1L1373.8 465.3L1381.3 465.9L1388.8 467.5L1396.4 471.7L1396.4 471.7L1388.8 474.2L1381.3 473.6L1373.8 471.9L1366.2 467.1ZM1181 472.8L1188.6 470.9L1196.3 471.6L1203.9 473.2L1211.5 477.5L1211.5 477.5L1203.9 480L1196.3 479.4L1188.6 477.7L1181 472.8ZM1213.1 477.7L1220.7 475.8L1228.4 476.4L1236 478.1L1243.6 482.3L1243.6 482.3L1236 484.9L1228.4 484.3L1220.7 482.6L1213.1 477.7ZM1259.8 482.8L1267.5 479L1275.1 477.8L1282.8 477.6L1290.4 480L1290.4 480L1282.8 484.4L1275.1 485.7L1267.5 485.8L1259.8 482.8ZM1291.9 479.8L1299.6 476L1307.2 474.9L1314.8 474.6L1322.5 477L1322.5 477L1314.8 481.4L1307.2 482.7L1299.6 482.8L1291.9 479.8ZM1338.7 477.5L1346.3 475.6L1354 476.3L1361.6 477.9L1369.3 482.2L1369.3 482.2L1361.6 484.7L1354 484.1L1346.3 482.4L1338.7 477.5ZM1370.8 482.4L1378.4 480.5L1386.1 481.1L1393.7 482.8L1401.3 487L1401.3 487L1393.7 489.6L1386.1 489L1378.4 487.3L1370.8 482.4ZM1184.3 488.2L1192.1 486.2L1199.8 486.9L1207.6 488.6L1215.3 492.9L1215.3 492.9L1207.6 495.6L1199.8 495L1192.1 493.2L1184.3 488.2ZM1216.4 493.1L1224.1 491.1L1231.9 491.8L1239.6 493.5L1247.4 497.8L1247.4 497.8L1239.6 500.5L1231.9 499.9L1224.1 498.1L1216.4 493.1ZM1263.8 498.3L1271.6 494.4L1279.3 493.2L1287.1 493L1294.8 495.4L1294.8 495.4L1287.1 500L1279.3 501.3L1271.6 501.4L1263.8 498.3ZM1295.9 495.3L1303.6 491.4L1311.4 490.2L1319.1 490L1326.9 492.4L1326.9 492.4L1319.1 497L1311.4 498.3L1303.6 498.4L1295.9 495.3ZM1343.3 492.9L1351.1 490.9L1358.8 491.6L1366.6 493.3L1374.3 497.7L1374.3 497.7L1366.6 500.3L1358.8 499.7L1351.1 497.9L1343.3 492.9ZM1375.4 497.8L1383.1 495.8L1390.9 496.5L1398.6 498.2L1406.4 502.6L1406.4 502.6L1398.6 505.2L1390.9 504.6L1383.1 502.8L1375.4 497.8ZM1187.7 503.8L1195.6 501.7L1203.5 502.4L1211.3 504.1L1219.2 508.6L1219.2 508.6L1211.3 511.3L1203.5 510.7L1195.6 508.9L1187.7 503.8ZM1219.7 508.7L1227.6 506.6L1235.5 507.3L1243.3 509L1251.2 513.5L1251.2 513.5L1243.3 516.2L1235.5 515.6L1227.6 513.8L1219.7 508.7ZM1267.9 514L1275.7 510L1283.6 508.7L1291.5 508.5L1299.3 511L1299.3 511L1291.5 515.7L1283.6 517L1275.7 517.2L1267.9 514ZM1299.9 511L1307.7 507L1315.6 505.7L1323.5 505.5L1331.3 508L1331.3 508L1323.5 512.7L1315.6 514L1307.7 514.2L1299.9 511ZM1348 508.5L1355.9 506.5L1363.7 507.2L1371.6 508.9L1379.4 513.3L1379.4 513.3L1371.6 516.1L1363.7 515.5L1355.9 513.6L1348 508.5ZM1380 513.4L1387.9 511.4L1395.7 512.1L1403.6 513.8L1411.5 518.3L1411.5 518.3L1403.6 521L1395.7 520.4L1387.9 518.6L1380 513.4ZM1191.2 519.5L1199.1 517.4L1207.1 518.1L1215.1 519.8L1223.1 524.4L1223.1 524.4L1215.1 527.2L1207.1 526.6L1199.1 524.8L1191.2 519.5ZM1223.1 524.4L1231.1 522.3L1239.1 523L1247.1 524.7L1255 529.3L1255 529.3L1247.1 532.1L1239.1 531.5L1231.1 529.7L1223.1 524.4ZM1271.9 529.8L1279.9 525.7L1287.9 524.4L1295.9 524.2L1303.9 526.8L1303.9 526.8L1295.9 531.6L1287.9 533L1279.9 533.1L1271.9 529.8ZM1303.9 526.8L1311.9 522.7L1319.9 521.4L1327.8 521.2L1335.8 523.8L1335.8 523.8L1327.8 528.6L1319.9 530L1311.9 530.1L1303.9 526.8ZM1352.7 524.3L1360.7 522.2L1368.7 522.9L1376.6 524.6L1384.6 529.2L1384.6 529.2L1376.6 532L1368.7 531.4L1360.7 529.5L1352.7 524.3ZM1384.7 529.2L1392.7 527.1L1400.6 527.8L1408.6 529.5L1416.6 534.1L1416.6 534.1L1408.6 536.9L1400.6 536.3L1392.7 534.5L1384.7 529.2ZM1194.6 535.4L1202.7 533.2L1210.8 533.9L1218.9 535.7L1227 540.4L1227 540.4L1218.9 543.3L1210.8 542.7L1202.7 540.8L1194.6 535.4ZM1226.6 540.3L1234.7 538.1L1242.7 538.8L1250.8 540.6L1258.9 545.3L1258.9 545.3L1250.8 548.2L1242.7 547.6L1234.7 545.7L1226.6 540.3ZM1276.1 545.8L1284.2 541.6L1292.3 540.3L1300.3 540.1L1308.4 542.8L1308.4 542.8L1300.3 547.7L1292.3 549.1L1284.2 549.2L1276.1 545.8ZM1308 542.8L1316.1 538.6L1324.2 537.3L1332.3 537L1340.4 539.7L1340.4 539.7L1332.3 544.6L1324.2 546L1316.1 546.2L1308 542.8ZM1357.5 540.2L1365.6 538L1373.7 538.7L1381.8 540.5L1389.9 545.2L1389.9 545.2L1381.8 548.1L1373.7 547.5L1365.6 545.6L1357.5 540.2ZM1389.4 545.1L1397.5 542.9L1405.6 543.7L1413.7 545.4L1421.8 550.1L1421.8 550.1L1413.7 553L1405.6 552.4L1397.5 550.5L1389.4 545.1ZM1198.1 551.5L1206.4 549.2L1214.6 549.9L1222.8 551.8L1231 556.6L1231 556.6L1222.8 559.6L1214.6 558.9L1206.4 557L1198.1 551.5ZM1230 556.4L1238.2 554.1L1246.4 554.9L1254.6 556.7L1262.9 561.5L1262.9 561.5L1254.6 564.5L1246.4 563.9L1238.2 562L1230 556.4ZM1280.2 562L1288.4 557.7L1296.7 556.3L1304.9 556.1L1313.1 558.9L1313.1 558.9L1304.9 563.9L1296.7 565.4L1288.4 565.5L1280.2 562ZM1312.1 559L1320.3 554.6L1328.5 553.3L1336.7 553.1L1344.9 555.8L1344.9 555.8L1336.7 560.9L1328.5 562.3L1320.3 562.4L1312.1 559ZM1362.3 556.3L1370.5 554L1378.7 554.8L1387 556.6L1395.2 561.4L1395.2 561.4L1387 564.4L1378.7 563.8L1370.5 561.9L1362.3 556.3ZM1394.2 561.3L1402.4 559L1410.6 559.7L1418.8 561.5L1427 566.3L1427 566.3L1418.8 569.3L1410.6 568.7L1402.4 566.8L1394.2 561.3Z" fill="#fff"/>
<path d="M1130.3 207.2L1174 225.2M1238.9 210.6L1201.3 226.1M1266.1 211.4L1310.7 229.5M1132.9 219.3L1177 237.6M1242.4 222.7L1204.5 238.4M1269.7 223.6L1314.7 241.9M1135.6 231.6L1180 250.1M1245.8 235L1207.8 251M1273.4 235.9L1318.8 254.4M1138.4 244L1183.1 262.8M1249.4 247.5L1211 263.7M1277.2 248.3L1322.9 267.1M1141.1 256.7L1186.2 275.6M1253 260.1L1214.4 276.5M1281 261L1327.1 280M1143.9 269.5L1189.3 288.7M1256.6 272.9L1217.7 289.6M1284.8 273.8L1331.3 293.1M1146.8 282.4L1192.5 301.9M1260.3 285.9L1221.1 302.8M1288.7 286.8L1335.6 306.3M1149.6 295.6L1195.8 315.2M1264.1 299.1L1224.6 316.1M1292.7 300L1339.9 319.7M1152.5 308.9L1199.1 328.8M1267.8 312.4L1228.1 329.7M1296.7 313.3L1344.3 333.2M1155.5 322.3L1202.4 342.5M1271.7 325.9L1231.6 343.4M1300.7 326.8L1348.7 347M1158.5 336L1205.7 356.4M1275.6 339.5L1235.2 357.3M1304.8 340.4L1353.2 360.9M1161.5 349.8L1209.1 370.4M1279.5 353.4L1238.9 371.3M1309 354.3L1357.8 374.9M1164.5 363.8L1212.6 384.6M1283.5 367.4L1242.5 385.5M1313.2 368.3L1362.4 389.2M1167.6 377.9L1216.1 399M1287.5 381.5L1246.3 399.9M1317.4 382.4L1367 403.6M1170.8 392.2L1219.6 413.6M1291.6 395.9L1250 414.5M1321.8 396.8L1371.8 418.2M1173.9 406.7L1223.2 428.3M1295.7 410.4L1253.8 429.2M1326.1 411.3L1376.5 432.9M1177.1 421.4L1226.8 443.2M1299.8 425L1257.7 444.1M1330.5 426L1381.4 447.8M1180.4 436.2L1230.4 458.3M1304.1 439.9L1261.6 459.2M1335 440.8L1386.2 462.9M1183.7 451.2L1234.1 473.5M1308.3 454.9L1265.5 474.4M1339.5 455.8L1391.2 478.2M1187 466.3L1237.8 488.9M1312.6 470.1L1269.5 489.8M1344.1 471L1396.2 493.6M1190.3 481.6L1241.6 504.5M1317 485.4L1273.5 505.4M1348.7 486.4L1401.2 509.2M1193.7 497.1L1245.4 520.2M1321.4 500.9L1277.6 521.2M1353.3 501.9L1406.3 525M1197.1 512.8L1249.3 536.1M1325.9 516.6L1281.7 537.1M1358 517.6L1411.5 540.9M1200.6 528.6L1253.2 552.2M1330.4 532.5L1285.9 553.2M1362.8 533.4L1416.7 557M1204.1 544.6L1257.1 568.5M1334.9 548.5L1290.1 569.4M1367.6 549.4L1421.9 573.3" stroke="#42200a" stroke-width="6.8" fill="none"/>
<path d="M1130.3 207.2L1174 225.2M1238.9 210.6L1201.3 226.1M1266.1 211.4L1310.7 229.5M1132.9 219.3L1177 237.6M1242.4 222.7L1204.5 238.4M1269.7 223.6L1314.7 241.9M1135.6 231.6L1180 250.1M1245.8 235L1207.8 251M1273.4 235.9L1318.8 254.4M1138.4 244L1183.1 262.8M1249.4 247.5L1211 263.7M1277.2 248.3L1322.9 267.1M1141.1 256.7L1186.2 275.6M1253 260.1L1214.4 276.5M1281 261L1327.1 280M1143.9 269.5L1189.3 288.7M1256.6 272.9L1217.7 289.6M1284.8 273.8L1331.3 293.1M1146.8 282.4L1192.5 301.9M1260.3 285.9L1221.1 302.8M1288.7 286.8L1335.6 306.3M1149.6 295.6L1195.8 315.2M1264.1 299.1L1224.6 316.1M1292.7 300L1339.9 319.7M1152.5 308.9L1199.1 328.8M1267.8 312.4L1228.1 329.7M1296.7 313.3L1344.3 333.2M1155.5 322.3L1202.4 342.5M1271.7 325.9L1231.6 343.4M1300.7 326.8L1348.7 347M1158.5 336L1205.7 356.4M1275.6 339.5L1235.2 357.3M1304.8 340.4L1353.2 360.9M1161.5 349.8L1209.1 370.4M1279.5 353.4L1238.9 371.3M1309 354.3L1357.8 374.9M1164.5 363.8L1212.6 384.6M1283.5 367.4L1242.5 385.5M1313.2 368.3L1362.4 389.2M1167.6 377.9L1216.1 399M1287.5 381.5L1246.3 399.9M1317.4 382.4L1367 403.6M1170.8 392.2L1219.6 413.6M1291.6 395.9L1250 414.5M1321.8 396.8L1371.8 418.2M1173.9 406.7L1223.2 428.3M1295.7 410.4L1253.8 429.2M1326.1 411.3L1376.5 432.9M1177.1 421.4L1226.8 443.2M1299.8 425L1257.7 444.1M1330.5 426L1381.4 447.8M1180.4 436.2L1230.4 458.3M1304.1 439.9L1261.6 459.2M1335 440.8L1386.2 462.9M1183.7 451.2L1234.1 473.5M1308.3 454.9L1265.5 474.4M1339.5 455.8L1391.2 478.2M1187 466.3L1237.8 488.9M1312.6 470.1L1269.5 489.8M1344.1 471L1396.2 493.6M1190.3 481.6L1241.6 504.5M1317 485.4L1273.5 505.4M1348.7 486.4L1401.2 509.2M1193.7 497.1L1245.4 520.2M1321.4 500.9L1277.6 521.2M1353.3 501.9L1406.3 525M1197.1 512.8L1249.3 536.1M1325.9 516.6L1281.7 537.1M1358 517.6L1411.5 540.9M1200.6 528.6L1253.2 552.2M1330.4 532.5L1285.9 553.2M1362.8 533.4L1416.7 557M1204.1 544.6L1257.1 568.5M1334.9 548.5L1290.1 569.4M1367.6 549.4L1421.9 573.3" stroke="#b8621e" stroke-width="5.3" fill="none"/>
<path d="M1110 205.8L1116.7 205.2L1184.6 215L1252.5 209.5L1320.4 219.2L1334 218.1M1112.5 217.9L1119.3 217.3L1187.6 227.2L1256 221.6L1324.4 231.5L1338.1 230.3M1115 230.1L1121.9 229.6L1190.7 239.6L1259.6 233.9L1328.5 243.9L1342.4 242.7M1117.6 242.6L1124.5 242L1193.9 252.1L1263.3 246.3L1332.7 256.4L1346.6 255.3M1120.2 255.2L1127.1 254.6L1197.1 264.8L1267 259L1336.9 269.2L1350.9 268M1122.9 268L1129.8 267.4L1200.3 277.7L1270.7 271.8L1341.2 282.1L1355.3 280.9M1125.5 280.9L1132.6 280.3L1203.5 290.8L1274.5 284.7L1345.5 295.1L1359.8 293.9M1128.2 294.1L1135.3 293.5L1206.8 304L1278.4 297.9L1349.9 308.4L1364.2 307.1M1131 307.4L1138.1 306.7L1210.2 317.4L1282.3 311.2L1354.3 321.8L1368.8 320.5M1133.8 320.8L1141 320.2L1213.6 330.9L1286.2 324.6L1358.8 335.4L1373.4 334.1M1136.6 334.4L1143.8 333.8L1217 344.7L1290.2 338.3L1363.4 349.1L1378.1 347.8M1139.4 348.2L1146.7 347.6L1220.5 358.6L1294.2 352.1L1368 363.1L1382.8 361.8M1142.3 362.2L1149.7 361.5L1224 372.6L1298.3 366.1L1372.6 377.2L1387.6 375.8M1145.2 376.3L1152.7 375.7L1227.6 386.9L1302.5 380.2L1377.4 391.4L1392.4 390.1M1148.2 390.6L1155.7 390L1231.2 401.3L1306.7 394.5L1382.1 405.9L1397.3 404.5M1151.2 405.1L1158.7 404.4L1234.8 415.9L1310.9 409L1387 420.5L1402.3 419.1M1154.2 419.7L1161.8 419L1238.5 430.6L1315.2 423.6L1391.9 435.2L1407.3 433.8M1157.3 434.5L1164.9 433.8L1242.2 445.5L1319.5 438.5L1396.8 450.2L1412.4 448.8M1160.4 449.5L1168.1 448.8L1246 460.6L1323.9 453.5L1401.8 465.3L1417.5 463.8M1163.5 464.6L1171.3 463.9L1249.8 475.9L1328.3 468.6L1406.9 480.6L1422.7 479.1M1166.7 480L1174.5 479.2L1253.7 491.3L1332.8 483.9L1412 496L1427.9 494.5M1169.9 495.4L1177.8 494.7L1257.6 506.9L1337.4 499.4L1417.2 511.7L1433.2 510.2M1173.1 511.1L1181.1 510.3L1261.5 522.7L1342 515.1L1422.4 527.4L1438.6 525.9M1176.4 526.9L1184.4 526.1L1265.5 538.6L1346.6 530.9L1427.7 543.4L1444 541.9M1179.7 542.9L1187.8 542.1L1269.5 554.7L1351.3 546.9L1433 559.5L1449.5 558M1183 559L1191.2 558.2L1273.6 571L1356 563.1L1438.4 575.9L1455 574.3" stroke="#42200a" stroke-width="9.0" fill="none" stroke-linejoin="round" stroke-linecap="round"/>
<path d="M1110 205.8L1116.7 205.2L1184.6 215L1252.5 209.5L1320.4 219.2L1334 218.1M1112.5 217.9L1119.3 217.3L1187.6 227.2L1256 221.6L1324.4 231.5L1338.1 230.3M1115 230.1L1121.9 229.6L1190.7 239.6L1259.6 233.9L1328.5 243.9L1342.4 242.7M1117.6 242.6L1124.5 242L1193.9 252.1L1263.3 246.3L1332.7 256.4L1346.6 255.3M1120.2 255.2L1127.1 254.6L1197.1 264.8L1267 259L1336.9 269.2L1350.9 268M1122.9 268L1129.8 267.4L1200.3 277.7L1270.7 271.8L1341.2 282.1L1355.3 280.9M1125.5 280.9L1132.6 280.3L1203.5 290.8L1274.5 284.7L1345.5 295.1L1359.8 293.9M1128.2 294.1L1135.3 293.5L1206.8 304L1278.4 297.9L1349.9 308.4L1364.2 307.1M1131 307.4L1138.1 306.7L1210.2 317.4L1282.3 311.2L1354.3 321.8L1368.8 320.5M1133.8 320.8L1141 320.2L1213.6 330.9L1286.2 324.6L1358.8 335.4L1373.4 334.1M1136.6 334.4L1143.8 333.8L1217 344.7L1290.2 338.3L1363.4 349.1L1378.1 347.8M1139.4 348.2L1146.7 347.6L1220.5 358.6L1294.2 352.1L1368 363.1L1382.8 361.8M1142.3 362.2L1149.7 361.5L1224 372.6L1298.3 366.1L1372.6 377.2L1387.6 375.8M1145.2 376.3L1152.7 375.7L1227.6 386.9L1302.5 380.2L1377.4 391.4L1392.4 390.1M1148.2 390.6L1155.7 390L1231.2 401.3L1306.7 394.5L1382.1 405.9L1397.3 404.5M1151.2 405.1L1158.7 404.4L1234.8 415.9L1310.9 409L1387 420.5L1402.3 419.1M1154.2 419.7L1161.8 419L1238.5 430.6L1315.2 423.6L1391.9 435.2L1407.3 433.8M1157.3 434.5L1164.9 433.8L1242.2 445.5L1319.5 438.5L1396.8 450.2L1412.4 448.8M1160.4 449.5L1168.1 448.8L1246 460.6L1323.9 453.5L1401.8 465.3L1417.5 463.8M1163.5 464.6L1171.3 463.9L1249.8 475.9L1328.3 468.6L1406.9 480.6L1422.7 479.1M1166.7 480L1174.5 479.2L1253.7 491.3L1332.8 483.9L1412 496L1427.9 494.5M1169.9 495.4L1177.8 494.7L1257.6 506.9L1337.4 499.4L1417.2 511.7L1433.2 510.2M1173.1 511.1L1181.1 510.3L1261.5 522.7L1342 515.1L1422.4 527.4L1438.6 525.9M1176.4 526.9L1184.4 526.1L1265.5 538.6L1346.6 530.9L1427.7 543.4L1444 541.9M1179.7 542.9L1187.8 542.1L1269.5 554.7L1351.3 546.9L1433 559.5L1449.5 558M1183 559L1191.2 558.2L1273.6 571L1356 563.1L1438.4 575.9L1455 574.3" stroke="#b8621e" stroke-width="7.2" fill="none" stroke-linejoin="round" stroke-linecap="round"/>
<path d="M1110 204.6L1116.7 204L1184.6 213.8L1252.5 208.3L1320.4 218L1334 216.9M1112.5 216.7L1119.3 216.1L1187.6 226L1256 220.4L1324.4 230.3L1338.1 229.1M1115 228.9L1121.9 228.4L1190.7 238.4L1259.6 232.6L1328.5 242.6L1342.4 241.5M1117.6 241.4L1124.5 240.8L1193.9 250.9L1263.3 245.1L1332.7 255.2L1346.6 254M1120.2 254L1127.1 253.4L1197.1 263.6L1267 257.7L1336.9 267.9L1350.9 266.7M1122.9 266.7L1129.8 266.1L1200.3 276.4L1270.7 270.5L1341.2 280.8L1355.3 279.6M1125.5 279.7L1132.6 279.1L1203.5 289.5L1274.5 283.4L1345.5 293.9L1359.8 292.6M1128.2 292.8L1135.3 292.2L1206.8 302.7L1278.4 296.6L1349.9 307.1L1364.2 305.9M1131 306L1138.1 305.4L1210.2 316.1L1282.3 309.8L1354.3 320.5L1368.8 319.2M1133.8 319.5L1141 318.9L1213.6 329.6L1286.2 323.3L1358.8 334.1L1373.4 332.8M1136.6 333.1L1143.8 332.5L1217 343.3L1290.2 336.9L1363.4 347.8L1378.1 346.5M1139.4 346.9L1146.7 346.2L1220.5 357.2L1294.2 350.7L1368 361.7L1382.8 360.4M1142.3 360.8L1149.7 360.2L1224 371.3L1298.3 364.7L1372.6 375.8L1387.6 374.5M1145.2 374.9L1152.7 374.3L1227.6 385.5L1302.5 378.8L1377.4 390L1392.4 388.7M1148.2 389.2L1155.7 388.5L1231.2 399.9L1306.7 393.1L1382.1 404.4L1397.3 403.1M1151.2 403.7L1158.7 403L1234.8 414.4L1310.9 407.6L1387 419L1402.3 417.7M1154.2 418.3L1161.8 417.6L1238.5 429.2L1315.2 422.2L1391.9 433.8L1407.3 432.4M1157.3 433.1L1164.9 432.4L1242.2 444.1L1319.5 437L1396.8 448.7L1412.4 447.3M1160.4 448L1168.1 447.3L1246 459.2L1323.9 452L1401.8 463.8L1417.5 462.4M1163.5 463.1L1171.3 462.4L1249.8 474.4L1328.3 467.1L1406.9 479.1L1422.7 477.6M1166.7 478.4L1174.5 477.7L1253.7 489.8L1332.8 482.4L1412 494.5L1427.9 493M1169.9 493.9L1177.8 493.2L1257.6 505.4L1337.4 497.9L1417.2 510.1L1433.2 508.6M1173.1 509.5L1181.1 508.8L1261.5 521.1L1342 513.5L1422.4 525.9L1438.6 524.4M1176.4 525.3L1184.4 524.6L1265.5 537.1L1346.6 529.4L1427.7 541.8L1444 540.3M1179.7 541.3L1187.8 540.5L1269.5 553.1L1351.3 545.3L1433 558L1449.5 556.4M1183 557.4L1191.2 556.6L1273.6 569.4L1356 561.5L1438.4 574.2L1455 572.7" stroke="#d0823f" stroke-width="1.4" fill="none" opacity="0.7"/></svg>
<div class="t" id="title" style="left:547px;top:40px;font-size:76px;transform-origin:0 0;transform:scaleX(0.771);-webkit-text-stroke:1.4px #000;">Various Wire Clothes</div>
<div class="t" id="logo" style="left:1260px;top:836px;font-size:42px;transform-origin:0 0;transform:scaleX(1.077);-webkit-text-stroke:0.25px #000;">IQSdirectory.com</div>
</body></html>
